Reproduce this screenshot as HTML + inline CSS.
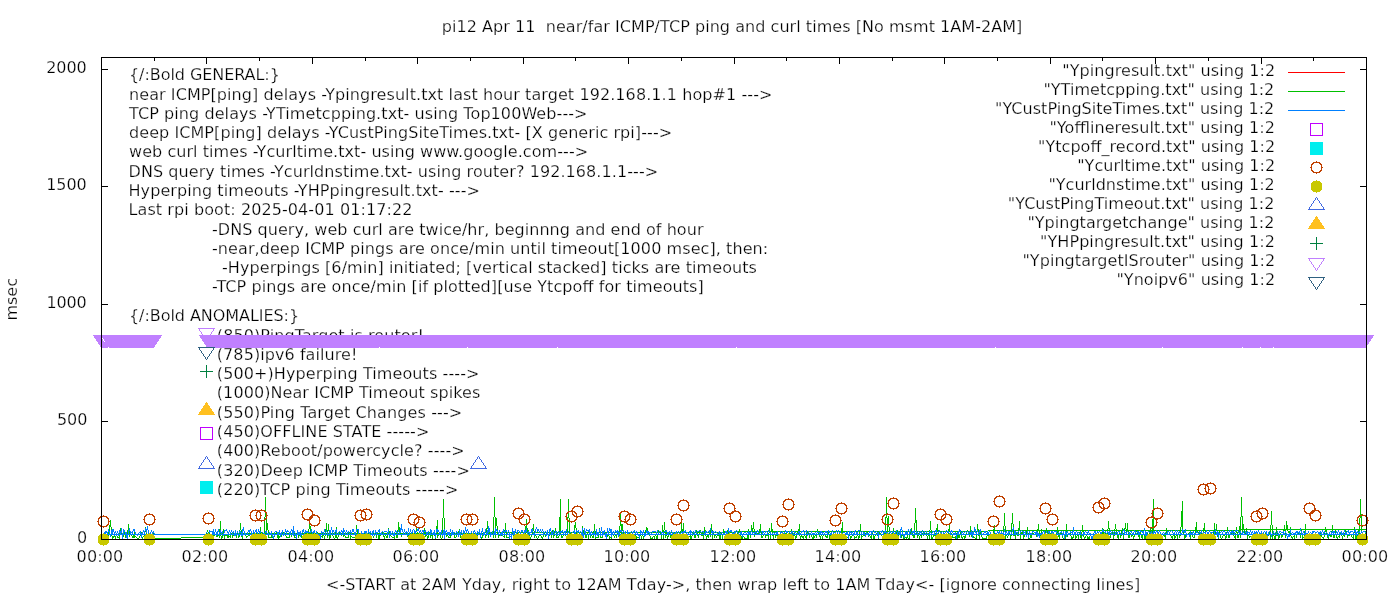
<!DOCTYPE html>
<html><head><meta charset="utf-8"><title>pi12 Apr 11 near/far ICMP/TCP ping and curl times</title>
<style>html,body{margin:0;padding:0;background:#fff;overflow:hidden}svg{display:block}
svg text{font-family:"DejaVu Sans","Liberation Sans",sans-serif;font-size:16px;white-space:pre;stroke:#fff;stroke-width:0.25px;paint-order:fill stroke}</style></head>
<body><svg width="1400" height="600" viewBox="0 0 1400 600">
<rect x="0" y="0" width="1400" height="600" fill="#fff"/>
<g fill="#000">
<text x="129.0" y="80" textLength="150.84">{/:Bold GENERAL:}</text>
<text x="129.0" y="100" textLength="643.39">near ICMP[ping] delays -Ypingresult.txt last hour target 192.168.1.1 hop#1 ---&gt;</text>
<text x="129.0" y="119" textLength="458.5">TCP ping delays -YTimetcpping.txt- using Top100Web---&gt;</text>
<text x="129.0" y="138" textLength="543.15">deep ICMP[ping] delays -YCustPingSiteTimes.txt- [X generic rpi]---&gt;</text>
<text x="129.0" y="157" textLength="459.12">web curl times -Ycurltime.txt- using www.google.com---&gt;</text>
<text x="128.5" y="176.7" textLength="529.67">DNS query times -Ycurldnstime.txt- using router? 192.168.1.1---&gt;</text>
<text x="128.5" y="196.4" textLength="351.41">Hyperping timeouts -YHPpingresult.txt- ---&gt;</text>
<text x="128.5" y="215" textLength="283.89">Last rpi boot: 2025-04-01 01:17:22</text>
<text x="212.0" y="235" textLength="491.46">-DNS query, web curl are twice/hr, beginnng and end of hour</text>
<text x="212.0" y="254" textLength="556.22">-near,deep ICMP pings are once/min until timeout[1000 msec], then:</text>
<text x="222.0" y="273" textLength="534.93">-Hyperpings [6/min] initiated; [vertical stacked] ticks are timeouts</text>
<text x="212.0" y="292" textLength="491.79">-TCP pings are once/min [if plotted][use Ytcpoff for timeouts]</text>
<text x="129.0" y="321" textLength="170.09">{/:Bold ANOMALIES:}</text>
<text x="216.8" y="340.6" textLength="207.07">(850)PingTarget is router!</text>
<text x="216.8" y="360" textLength="140.58">(785)ipv6 failure!</text>
<text x="216.8" y="379" textLength="262.68">(500+)Hyperping Timeouts ----&gt;</text>
<text x="216.8" y="398" textLength="263.45">(1000)Near ICMP Timeout spikes</text>
<text x="216.8" y="418" textLength="245.45">(550)Ping Target Changes ---&gt;</text>
<text x="216.8" y="437" textLength="212.54">(450)OFFLINE STATE -----&gt;</text>
<text x="216.8" y="456" textLength="247.9">(400)Reboot/powercycle? ----&gt;</text>
<text x="216.8" y="476" textLength="253.09">(320)Deep ICMP Timeouts ----&gt;</text>
<text x="216.8" y="495" textLength="241.51">(220)TCP ping Timeouts -----&gt;</text>
</g>
<g shape-rendering="crispEdges">
<path fill="#000000" d="M101 58h1v11h-1zM101 70h1v116h-1zM101 187h1v117h-1zM101 305h1v116h-1zM101 422h1v117h-1zM101 69h7v1h-7zM101 186h7v1h-7zM101 304h7v1h-7zM101 421h7v1h-7zM101 57h1266v1h-1266zM101 539h1266v1h-1266zM154 58h1v3h-1zM206 58h1v6h-1zM259 58h1v3h-1zM312 58h1v6h-1zM365 58h1v3h-1zM417 58h1v6h-1zM470 58h1v3h-1zM523 58h1v6h-1zM575 58h1v3h-1zM628 58h1v6h-1zM681 58h1v3h-1zM734 58h1v6h-1zM786 58h1v3h-1zM839 58h1v6h-1zM892 58h1v3h-1zM944 58h1v6h-1zM997 58h1v3h-1zM1050 58h1v6h-1zM1102 58h1v3h-1zM1155 58h1v6h-1zM1208 58h1v3h-1zM1261 58h1v6h-1zM1313 58h1v3h-1zM1360 69h7v1h-7zM1360 186h7v1h-7zM1360 304h7v1h-7zM1360 421h7v1h-7zM1366 58h1v11h-1zM1366 70h1v116h-1zM1366 187h1v117h-1zM1366 305h1v116h-1zM1366 422h1v117h-1z"/>
<path fill="#ff0000" d="M1288 72h57v1h-57z"/>
<path fill="#00c000" d="M108 532h1v2h-1zM108 535h1v1h-1zM109 527h1v4h-1zM109 525h2v2h-2zM110 520h1v5h-1zM111 527h1v3h-1zM111 535h1v1h-1zM112 538h1v1h-1zM112 537h2v1h-2zM112 536h4v1h-4zM115 537h1v2h-1zM117 536h1v1h-1zM117 537h3v1h-3zM119 533h1v1h-1zM119 535h1v2h-1zM119 538h1v1h-1zM120 528h1v3h-1zM121 533h1v1h-1zM123 535h1v2h-1zM124 532h1v2h-1zM125 535h1v3h-1zM127 530h1v4h-1zM128 524h1v6h-1zM129 531h1v3h-1zM129 535h1v2h-1zM131 535h1v1h-1zM132 537h3v1h-3zM132 536h4v1h-4zM133 535h2v1h-2zM134 532h1v2h-1zM136 537h1v1h-1zM137 538h2v1h-2zM139 536h1v2h-1zM140 535h1v1h-1zM141 532h1v1h-1zM142 537h1v2h-1zM143 536h1v1h-1zM144 535h1v1h-1zM145 527h1v1h-1zM145 531h1v1h-1zM146 533h1v1h-1zM153 533h1v1h-1zM155 538h26v1h-26zM181 537h22v1h-22zM206 533h1v1h-1zM207 530h1v2h-1zM208 532h1v1h-1zM209 533h1v1h-1zM213 535h2v1h-2zM216 536h2v1h-2zM217 535h2v1h-2zM219 530h1v2h-1zM219 536h1v2h-1zM219 529h2v1h-2zM220 521h1v8h-1zM220 533h1v1h-1zM220 535h1v1h-1zM221 538h1v1h-1zM221 536h2v2h-2zM222 533h1v1h-1zM222 535h1v1h-1zM223 529h1v4h-1zM224 536h1v3h-1zM224 535h5v1h-5zM227 537h2v1h-2zM227 536h4v1h-4zM230 535h1v1h-1zM230 537h1v1h-1zM231 533h1v1h-1zM232 536h1v2h-1zM232 535h2v1h-2zM233 533h1v1h-1zM236 535h1v3h-1zM237 533h1v1h-1zM238 537h1v1h-1zM238 536h2v1h-2zM239 530h1v1h-1zM239 535h1v1h-1zM239 533h2v1h-2zM240 523h1v7h-1zM241 530h1v2h-1zM241 536h2v1h-2zM242 537h1v2h-1zM243 533h1v1h-1zM245 535h1v1h-1zM246 533h1v1h-1zM246 537h1v1h-1zM246 536h2v1h-2zM248 535h2v1h-2zM248 533h3v1h-3zM253 533h1v1h-1zM256 533h1v1h-1zM258 533h1v1h-1zM260 527h1v4h-1zM260 533h1v1h-1zM261 532h1v1h-1zM262 533h1v1h-1zM264 517h1v2h-1zM264 521h1v12h-1zM265 497h1v14h-1zM265 513h1v4h-1zM265 533h2v1h-2zM266 519h1v4h-1zM266 530h1v1h-1zM266 523h2v7h-2zM268 530h1v3h-1zM268 535h1v2h-1zM268 537h5v1h-5zM269 533h1v1h-1zM271 535h1v2h-1zM272 533h2v1h-2zM274 536h1v1h-1zM275 533h2v1h-2zM276 532h1v1h-1zM277 535h2v1h-2zM277 536h3v2h-3zM278 538h1v1h-1zM279 533h1v1h-1zM281 535h1v2h-1zM282 533h1v1h-1zM283 532h1v1h-1zM285 533h1v1h-1zM285 535h1v1h-1zM286 536h1v1h-1zM286 537h4v1h-4zM287 533h2v1h-2zM289 535h1v2h-1zM291 533h1v1h-1zM291 535h1v2h-1zM294 533h1v1h-1zM294 535h1v2h-1zM294 537h2v1h-2zM296 533h1v1h-1zM298 536h1v2h-1zM298 535h2v1h-2zM301 535h1v3h-1zM302 533h2v1h-2zM305 533h2v1h-2zM308 529h1v3h-1zM308 533h4v1h-4zM309 524h1v2h-1zM309 526h2v3h-2zM310 529h1v2h-1zM311 532h1v1h-1zM313 533h1v1h-1zM315 533h1v1h-1zM317 532h1v1h-1zM318 533h3v1h-3zM321 536h2v1h-2zM322 533h1v1h-1zM322 537h1v1h-1zM322 535h2v1h-2zM324 533h1v1h-1zM324 536h1v3h-1zM325 530h1v2h-1zM325 535h1v1h-1zM325 529h2v1h-2zM326 523h1v6h-1zM326 533h1v1h-1zM327 531h1v1h-1zM327 535h1v3h-1zM327 530h2v1h-2zM328 524h1v6h-1zM328 533h1v1h-1zM329 538h1v1h-1zM329 535h2v3h-2zM331 533h1v1h-1zM332 535h1v1h-1zM333 533h1v1h-1zM333 536h1v2h-1zM334 538h1v1h-1zM335 532h1v2h-1zM335 535h2v2h-2zM335 537h3v1h-3zM336 527h1v2h-1zM337 533h1v1h-1zM337 538h1v1h-1zM338 535h1v2h-1zM339 532h1v2h-1zM341 533h1v1h-1zM341 535h1v1h-1zM343 536h1v1h-1zM343 535h2v1h-2zM344 533h1v1h-1zM345 536h1v1h-1zM345 537h4v1h-4zM346 533h1v1h-1zM348 533h1v1h-1zM348 535h1v2h-1zM349 532h1v1h-1zM350 533h1v1h-1zM350 535h1v1h-1zM350 537h1v2h-1zM350 536h2v1h-2zM352 533h2v1h-2zM352 537h3v1h-3zM355 535h1v1h-1zM356 525h1v4h-1zM356 533h2v1h-2zM357 530h1v3h-1zM359 533h1v1h-1zM364 533h1v1h-1zM368 533h1v1h-1zM370 533h1v1h-1zM373 533h1v1h-1zM373 536h1v2h-1zM375 533h1v1h-1zM376 535h1v3h-1zM377 533h3v1h-3zM378 536h2v3h-2zM378 535h3v1h-3zM382 532h1v2h-1zM383 535h1v1h-1zM383 536h2v1h-2zM384 537h1v2h-1zM384 533h3v1h-3zM385 535h1v1h-1zM386 536h2v2h-2zM387 535h1v1h-1zM388 528h1v1h-1zM388 533h1v1h-1zM389 531h1v2h-1zM390 535h1v1h-1zM391 536h1v1h-1zM392 533h1v1h-1zM392 537h3v1h-3zM394 536h1v1h-1zM394 538h1v1h-1zM395 533h2v1h-2zM396 535h2v3h-2zM397 530h1v2h-1zM398 522h1v5h-1zM398 533h1v1h-1zM398 527h2v3h-2zM399 530h1v2h-1zM400 533h3v1h-3zM401 535h1v2h-1zM404 533h1v1h-1zM406 533h1v1h-1zM407 536h1v1h-1zM408 533h1v1h-1zM408 535h1v1h-1zM410 533h1v1h-1zM412 533h1v1h-1zM414 533h1v1h-1zM416 528h1v3h-1zM416 533h3v1h-3zM417 532h1v1h-1zM420 533h1v1h-1zM422 533h1v1h-1zM424 528h1v3h-1zM424 532h2v2h-2zM425 536h1v1h-1zM425 535h2v1h-2zM427 538h1v1h-1zM427 536h2v2h-2zM428 533h1v1h-1zM428 535h1v1h-1zM429 532h1v1h-1zM430 536h1v2h-1zM430 535h3v1h-3zM431 533h1v1h-1zM432 536h1v3h-1zM434 535h1v1h-1zM435 538h1v1h-1zM436 526h2v3h-2zM436 533h3v1h-3zM437 520h1v6h-1zM437 532h1v1h-1zM437 536h1v2h-1zM437 535h2v1h-2zM440 535h1v3h-1zM441 533h1v1h-1zM441 538h1v1h-1zM442 518h1v15h-1zM442 536h1v2h-1zM443 499h1v19h-1zM444 518h1v11h-1zM446 533h1v1h-1zM446 536h1v1h-1zM446 535h2v1h-2zM448 536h1v1h-1zM448 537h3v1h-3zM450 533h1v1h-1zM450 535h1v2h-1zM454 533h1v1h-1zM454 535h1v2h-1zM454 537h2v1h-2zM456 533h1v1h-1zM456 535h1v2h-1zM458 531h1v2h-1zM459 529h1v1h-1zM460 535h1v3h-1zM461 533h1v1h-1zM463 533h1v1h-1zM465 533h1v1h-1zM467 533h1v1h-1zM469 533h1v1h-1zM471 533h1v1h-1zM474 533h1v1h-1zM477 533h1v1h-1zM477 535h1v1h-1zM479 533h1v1h-1zM481 538h1v1h-1zM481 537h2v1h-2zM482 533h1v1h-1zM482 535h1v2h-1zM485 532h1v1h-1zM485 536h1v2h-1zM485 535h2v1h-2zM486 529h1v3h-1zM486 528h2v1h-2zM487 521h1v7h-1zM488 535h1v3h-1zM488 533h2v1h-2zM489 532h1v1h-1zM491 532h1v1h-1zM492 533h1v1h-1zM493 517h1v16h-1zM493 535h1v3h-1zM494 497h1v20h-1zM495 517h1v1h-1zM495 526h1v2h-1zM495 535h1v3h-1zM495 518h2v8h-2zM496 532h2v1h-2zM497 526h1v4h-1zM497 533h1v1h-1zM498 536h1v2h-1zM498 535h2v1h-2zM500 532h1v1h-1zM501 535h1v1h-1zM503 532h1v1h-1zM503 536h2v1h-2zM504 530h1v1h-1zM504 535h1v1h-1zM504 537h1v1h-1zM505 523h1v7h-1zM505 532h2v1h-2zM506 533h1v1h-1zM506 535h1v2h-1zM506 537h3v1h-3zM508 532h1v1h-1zM510 532h2v1h-2zM512 533h1v1h-1zM513 535h1v1h-1zM515 532h1v1h-1zM517 533h1v1h-1zM518 532h1v1h-1zM521 532h2v1h-2zM525 528h1v2h-1zM525 533h1v1h-1zM525 526h2v2h-2zM526 519h1v5h-1zM526 525h1v1h-1zM526 532h1v1h-1zM527 528h1v2h-1zM527 531h1v1h-1zM527 530h2v1h-2zM528 533h1v1h-1zM529 535h1v1h-1zM530 537h1v2h-1zM531 535h1v2h-1zM532 532h1v2h-1zM532 528h2v1h-2zM533 524h1v4h-1zM533 529h1v2h-1zM534 531h1v2h-1zM534 536h1v2h-1zM535 535h1v1h-1zM536 536h1v2h-1zM536 532h3v1h-3zM537 538h1v1h-1zM538 536h1v2h-1zM539 535h2v1h-2zM540 532h1v1h-1zM541 536h1v1h-1zM541 537h2v1h-2zM542 532h1v1h-1zM542 538h1v1h-1zM543 535h1v2h-1zM544 533h1v1h-1zM545 532h1v1h-1zM545 535h1v2h-1zM548 532h1v1h-1zM549 535h1v1h-1zM550 532h1v2h-1zM551 535h1v3h-1zM552 530h1v2h-1zM553 533h1v1h-1zM553 536h1v2h-1zM553 535h2v1h-2zM554 531h1v2h-1zM555 528h1v3h-1zM556 533h1v1h-1zM556 535h1v2h-1zM556 537h3v1h-3zM557 532h1v1h-1zM558 536h1v1h-1zM559 531h1v1h-1zM559 535h1v1h-1zM559 517h2v14h-2zM560 499h1v18h-1zM560 533h1v1h-1zM561 535h1v1h-1zM561 536h2v2h-2zM562 532h1v1h-1zM563 535h1v1h-1zM565 535h1v1h-1zM566 532h1v1h-1zM567 518h1v1h-1zM567 521h1v11h-1zM567 517h2v1h-2zM568 499h1v12h-1zM568 513h1v4h-1zM569 518h1v3h-1zM569 522h1v11h-1zM570 533h1v1h-1zM571 532h1v1h-1zM573 532h1v1h-1zM574 528h1v2h-1zM574 525h2v3h-2zM575 522h1v3h-1zM576 528h1v2h-1zM576 532h1v2h-1zM578 532h1v1h-1zM580 532h1v1h-1zM582 526h1v2h-1zM583 530h1v3h-1zM584 533h1v1h-1zM585 535h2v3h-2zM586 532h3v1h-3zM587 533h1v1h-1zM588 535h1v4h-1zM590 536h1v2h-1zM591 535h1v1h-1zM592 532h2v1h-2zM592 536h2v2h-2zM593 531h1v1h-1zM593 535h1v1h-1zM594 524h1v7h-1zM595 531h1v3h-1zM595 538h1v1h-1zM595 537h4v1h-4zM598 535h1v2h-1zM599 528h1v1h-1zM599 532h1v1h-1zM600 536h1v1h-1zM600 537h3v1h-3zM601 532h1v1h-1zM602 536h1v1h-1zM604 533h1v1h-1zM605 532h2v1h-2zM607 536h1v1h-1zM607 535h2v1h-2zM609 532h1v1h-1zM609 536h1v1h-1zM609 538h1v1h-1zM609 537h3v1h-3zM611 538h1v1h-1zM613 535h1v1h-1zM614 536h1v2h-1zM615 532h1v1h-1zM615 535h2v1h-2zM616 536h1v2h-1zM617 533h1v1h-1zM619 526h1v6h-1zM619 535h1v1h-1zM620 514h1v5h-1zM620 521h1v3h-1zM620 532h2v1h-2zM620 524h3v2h-3zM621 533h1v1h-1zM621 526h2v4h-2zM622 530h1v1h-1zM623 532h1v2h-1zM626 532h1v1h-1zM629 533h1v1h-1zM631 532h1v1h-1zM634 532h1v1h-1zM635 535h1v1h-1zM636 536h1v1h-1zM636 538h1v1h-1zM636 537h3v1h-3zM638 532h2v1h-2zM640 535h1v1h-1zM641 536h1v3h-1zM642 535h1v1h-1zM643 536h1v3h-1zM644 532h2v1h-2zM645 530h1v2h-1zM646 527h1v1h-1zM646 528h2v2h-2zM647 530h1v1h-1zM648 533h1v1h-1zM649 535h1v1h-1zM650 536h1v2h-1zM650 538h3v1h-3zM651 532h1v1h-1zM652 537h1v1h-1zM653 536h2v1h-2zM653 532h3v1h-3zM654 537h1v2h-1zM655 535h1v1h-1zM656 536h2v3h-2zM657 532h1v1h-1zM657 535h1v1h-1zM658 530h1v2h-1zM659 532h2v1h-2zM660 533h1v1h-1zM661 535h1v4h-1zM662 525h1v5h-1zM662 530h2v2h-2zM663 535h1v4h-1zM664 522h1v8h-1zM664 532h3v1h-3zM665 530h1v1h-1zM665 536h1v2h-1zM665 533h2v1h-2zM665 535h2v1h-2zM667 537h1v2h-1zM667 536h2v1h-2zM668 535h1v1h-1zM669 533h1v1h-1zM670 536h1v2h-1zM670 535h2v1h-2zM671 532h1v1h-1zM673 533h1v1h-1zM674 532h1v1h-1zM677 532h1v1h-1zM679 532h2v1h-2zM680 531h1v1h-1zM681 523h1v6h-1zM681 529h3v2h-3zM682 531h1v1h-1zM683 523h1v6h-1zM685 532h1v1h-1zM688 532h1v1h-1zM689 536h3v1h-3zM690 535h1v1h-1zM690 537h2v2h-2zM692 532h1v1h-1zM692 535h1v1h-1zM693 533h1v1h-1zM694 535h2v3h-2zM695 532h1v1h-1zM696 530h1v2h-1zM697 533h1v1h-1zM697 535h2v1h-2zM697 532h4v1h-4zM698 536h1v2h-1zM699 531h1v1h-1zM699 533h1v1h-1zM700 530h1v1h-1zM701 533h3v1h-3zM701 535h3v1h-3zM702 532h1v1h-1zM703 536h1v3h-1zM704 527h1v3h-1zM704 531h1v2h-1zM704 530h2v1h-2zM705 535h1v1h-1zM706 537h1v2h-1zM706 536h3v1h-3zM707 535h2v1h-2zM708 532h1v1h-1zM708 537h1v1h-1zM709 533h2v1h-2zM710 530h1v3h-1zM710 535h1v2h-1zM711 524h1v6h-1zM712 530h1v1h-1zM712 535h1v4h-1zM713 533h1v1h-1zM714 536h1v2h-1zM714 535h2v1h-2zM715 532h1v1h-1zM716 536h1v2h-1zM717 532h1v1h-1zM717 535h4v1h-4zM718 533h1v1h-1zM719 536h2v3h-2zM720 532h1v1h-1zM721 533h1v1h-1zM722 535h1v4h-1zM723 529h1v2h-1zM723 531h2v2h-2zM727 530h1v2h-1zM728 532h1v2h-1zM730 532h2v1h-2zM733 532h1v1h-1zM736 531h1v1h-1zM737 533h1v1h-1zM738 532h1v1h-1zM738 531h3v1h-3zM739 529h1v2h-1zM740 535h1v1h-1zM741 536h1v1h-1zM741 537h2v2h-2zM742 531h6v1h-6zM743 536h1v1h-1zM744 537h1v1h-1zM744 538h5v1h-5zM747 535h2v3h-2zM748 529h1v2h-1zM749 531h2v1h-2zM750 535h1v3h-1zM751 525h1v3h-1zM751 529h2v1h-2zM751 528h3v1h-3zM752 530h1v1h-1zM752 531h3v1h-3zM753 522h1v6h-1zM754 529h1v2h-1zM754 535h1v2h-1zM755 533h1v1h-1zM756 531h1v1h-1zM757 533h2v1h-2zM759 532h1v1h-1zM759 529h2v3h-2zM760 524h1v5h-1zM761 532h1v2h-1zM761 535h1v1h-1zM761 536h2v2h-2zM763 535h1v1h-1zM764 531h1v1h-1zM765 536h1v2h-1zM765 535h4v1h-4zM767 531h1v1h-1zM768 533h1v1h-1zM768 536h1v3h-1zM769 528h1v3h-1zM769 532h1v1h-1zM770 535h1v4h-1zM770 531h7v1h-7zM771 523h1v6h-1zM771 529h2v2h-2zM772 532h1v1h-1zM772 535h2v1h-2zM773 536h1v3h-1zM774 532h1v1h-1zM775 536h1v2h-1zM775 535h3v1h-3zM778 531h2v1h-2zM781 531h1v1h-1zM783 531h2v1h-2zM785 533h2v1h-2zM788 531h1v1h-1zM789 533h1v1h-1zM790 531h1v1h-1zM791 529h1v2h-1zM792 533h1v1h-1zM793 531h1v1h-1zM793 535h2v1h-2zM794 533h1v1h-1zM795 538h1v1h-1zM795 536h2v2h-2zM795 531h3v1h-3zM796 535h1v1h-1zM797 532h1v1h-1zM798 533h1v1h-1zM798 529h2v2h-2zM799 524h1v5h-1zM799 535h1v1h-1zM800 531h1v1h-1zM800 537h1v2h-1zM800 536h4v1h-4zM801 535h1v1h-1zM802 537h2v1h-2zM803 538h1v1h-1zM804 531h1v1h-1zM804 535h1v1h-1zM805 536h2v2h-2zM806 533h1v1h-1zM806 535h1v1h-1zM806 538h1v1h-1zM807 531h1v2h-1zM808 533h1v1h-1zM809 535h1v3h-1zM809 531h2v1h-2zM811 535h1v2h-1zM812 538h2v1h-2zM812 537h3v1h-3zM812 531h5v1h-5zM813 535h1v1h-1zM813 536h2v1h-2zM815 535h2v1h-2zM816 536h1v2h-1zM817 529h1v2h-1zM818 533h1v1h-1zM818 531h2v1h-2zM819 535h1v1h-1zM819 536h2v1h-2zM820 537h1v2h-1zM821 535h1v1h-1zM822 536h1v3h-1zM822 531h3v1h-3zM823 535h1v1h-1zM825 535h1v1h-1zM825 536h3v1h-3zM826 537h2v1h-2zM827 531h1v1h-1zM827 535h1v1h-1zM828 532h1v2h-1zM829 536h1v3h-1zM829 535h2v1h-2zM830 531h2v1h-2zM833 531h3v1h-3zM837 531h1v1h-1zM839 531h1v1h-1zM841 528h2v3h-2zM841 532h2v1h-2zM841 531h6v1h-6zM842 522h1v6h-1zM847 537h1v1h-1zM848 531h1v1h-1zM849 535h1v1h-1zM850 538h1v1h-1zM850 536h2v2h-2zM851 531h1v1h-1zM852 535h1v1h-1zM853 531h1v1h-1zM854 536h1v1h-1zM854 538h1v1h-1zM854 537h3v1h-3zM856 536h1v1h-1zM856 531h2v1h-2zM857 535h1v1h-1zM858 538h1v1h-1zM858 536h2v2h-2zM859 531h1v3h-1zM859 535h1v1h-1zM860 524h1v7h-1zM861 531h1v1h-1zM861 535h1v1h-1zM861 537h1v2h-1zM861 536h2v1h-2zM863 535h2v1h-2zM863 531h6v1h-6zM865 533h1v1h-1zM867 532h1v1h-1zM868 536h1v1h-1zM869 535h1v1h-1zM870 536h2v2h-2zM871 535h1v1h-1zM871 538h1v1h-1zM872 533h1v1h-1zM873 531h1v1h-1zM873 535h1v1h-1zM873 536h2v3h-2zM875 531h1v1h-1zM875 535h1v1h-1zM876 533h1v1h-1zM877 535h1v1h-1zM877 531h2v1h-2zM878 538h1v1h-1zM879 532h1v1h-1zM879 533h2v1h-2zM881 535h1v1h-1zM883 531h1v1h-1zM884 533h2v1h-2zM885 518h1v6h-1zM885 525h1v5h-1zM885 517h2v1h-2zM886 497h1v17h-1zM886 515h1v2h-1zM886 531h3v1h-3zM887 527h1v4h-1zM887 518h2v6h-2zM887 526h2v1h-2zM888 516h1v2h-1zM888 525h1v1h-1zM889 527h1v4h-1zM889 533h1v1h-1zM891 531h1v1h-1zM892 533h1v1h-1zM893 528h1v3h-1zM894 531h2v1h-2zM896 532h1v2h-1zM897 530h1v2h-1zM898 533h1v1h-1zM898 535h1v1h-1zM899 531h1v1h-1zM901 531h1v1h-1zM901 536h1v2h-1zM901 535h2v1h-2zM903 536h1v2h-1zM903 531h2v1h-2zM903 538h2v1h-2zM905 537h3v1h-3zM906 531h1v1h-1zM906 538h1v1h-1zM907 535h1v2h-1zM908 531h1v1h-1zM908 538h2v1h-2zM909 535h1v3h-1zM910 532h1v2h-1zM911 528h1v4h-1zM912 533h1v1h-1zM912 535h3v1h-3zM913 536h2v2h-2zM914 523h1v7h-1zM915 508h1v12h-1zM915 531h1v1h-1zM915 520h2v3h-2zM916 523h1v8h-1zM916 533h1v1h-1zM917 531h1v1h-1zM917 536h1v2h-1zM917 535h2v1h-2zM918 533h1v1h-1zM919 531h1v1h-1zM919 536h1v3h-1zM920 535h2v1h-2zM921 531h1v1h-1zM921 536h1v2h-1zM922 533h1v1h-1zM923 531h1v1h-1zM923 535h1v1h-1zM924 533h1v1h-1zM925 531h1v1h-1zM926 533h1v1h-1zM926 535h1v1h-1zM927 536h1v3h-1zM927 531h2v1h-2zM928 533h1v1h-1zM928 535h2v1h-2zM929 530h1v1h-1zM929 536h1v3h-1zM930 521h1v9h-1zM930 531h2v1h-2zM931 530h1v1h-1zM931 532h1v1h-1zM931 535h1v2h-1zM931 537h2v2h-2zM933 536h1v1h-1zM933 535h3v1h-3zM934 531h1v1h-1zM935 533h1v1h-1zM936 528h2v2h-2zM937 524h1v4h-1zM937 531h1v1h-1zM937 530h2v1h-2zM938 533h1v1h-1zM940 531h2v1h-2zM943 531h2v1h-2zM946 531h1v1h-1zM948 533h1v1h-1zM948 529h2v2h-2zM949 525h1v4h-1zM949 531h1v1h-1zM951 533h1v1h-1zM952 535h1v2h-1zM952 537h4v1h-4zM953 531h5v1h-5zM955 536h1v1h-1zM955 538h1v1h-1zM956 533h1v1h-1zM957 538h1v1h-1zM957 535h3v3h-3zM960 532h1v2h-1zM961 531h1v1h-1zM961 535h1v2h-1zM961 537h2v1h-2zM962 538h1v1h-1zM963 531h2v1h-2zM963 536h3v1h-3zM964 538h1v1h-1zM964 537h2v1h-2zM965 535h1v1h-1zM966 531h1v1h-1zM966 533h1v1h-1zM967 530h1v1h-1zM968 531h1v1h-1zM969 533h1v1h-1zM969 535h1v2h-1zM970 526h1v6h-1zM971 535h1v2h-1zM972 531h1v1h-1zM973 536h1v1h-1zM973 537h2v1h-2zM974 531h1v1h-1zM975 538h2v1h-2zM976 531h1v1h-1zM976 535h1v3h-1zM977 524h1v5h-1zM977 529h2v1h-2zM978 530h1v2h-1zM978 535h2v1h-2zM979 536h1v3h-1zM979 533h2v1h-2zM980 532h1v1h-1zM981 535h1v2h-1zM981 531h3v1h-3zM982 537h1v1h-1zM982 538h5v1h-5zM986 531h1v1h-1zM986 536h1v2h-1zM987 535h2v1h-2zM988 530h11v1h-11zM993 531h1v2h-1zM993 529h2v1h-2zM994 525h1v1h-1zM994 527h1v2h-1zM994 533h1v1h-1zM1000 530h4v1h-4zM1003 526h1v4h-1zM1003 531h1v1h-1zM1004 513h1v13h-1zM1005 526h1v4h-1zM1005 531h1v1h-1zM1005 536h1v3h-1zM1005 535h2v1h-2zM1005 530h7v1h-7zM1007 536h1v2h-1zM1008 535h1v1h-1zM1009 533h1v1h-1zM1010 536h1v3h-1zM1010 535h2v1h-2zM1011 524h1v6h-1zM1011 531h1v1h-1zM1011 523h2v1h-2zM1012 513h1v10h-1zM1013 524h1v3h-1zM1013 530h1v4h-1zM1013 535h3v1h-3zM1015 536h1v3h-1zM1015 530h4v1h-4zM1016 533h1v1h-1zM1017 535h2v1h-2zM1018 532h1v2h-1zM1018 528h2v2h-2zM1019 521h1v7h-1zM1020 530h1v1h-1zM1020 535h1v4h-1zM1020 533h3v1h-3zM1021 532h2v1h-2zM1022 530h51v1h-51zM1023 537h1v2h-1zM1023 535h2v2h-2zM1026 531h1v3h-1zM1027 527h1v3h-1zM1028 533h1v1h-1zM1028 538h2v1h-2zM1030 535h2v3h-2zM1032 533h2v1h-2zM1036 535h1v2h-1zM1037 531h1v1h-1zM1037 529h2v1h-2zM1038 524h1v5h-1zM1039 531h1v3h-1zM1040 535h1v1h-1zM1041 529h1v1h-1zM1041 531h1v2h-1zM1045 531h1v2h-1zM1046 528h1v2h-1zM1047 531h1v2h-1zM1048 533h1v1h-1zM1050 533h1v1h-1zM1056 533h1v1h-1zM1057 527h1v3h-1zM1057 532h1v1h-1zM1057 531h2v1h-2zM1058 533h1v1h-1zM1058 535h2v2h-2zM1059 537h1v2h-1zM1060 533h2v1h-2zM1062 536h1v2h-1zM1063 538h1v1h-1zM1065 535h1v4h-1zM1066 524h1v6h-1zM1066 531h1v1h-1zM1067 535h1v2h-1zM1070 533h1v1h-1zM1070 535h1v1h-1zM1071 536h1v1h-1zM1071 538h2v1h-2zM1071 537h3v1h-3zM1073 535h1v2h-1zM1074 530h14v1h-14zM1075 535h1v1h-1zM1075 538h1v1h-1zM1075 536h2v2h-2zM1077 535h2v1h-2zM1078 536h1v3h-1zM1079 532h1v1h-1zM1080 535h2v3h-2zM1081 532h1v2h-1zM1081 538h1v1h-1zM1082 525h1v5h-1zM1082 531h2v1h-2zM1083 535h1v2h-1zM1084 538h1v1h-1zM1084 537h2v1h-2zM1085 536h1v1h-1zM1086 535h1v1h-1zM1087 536h1v1h-1zM1087 537h3v2h-3zM1089 536h1v1h-1zM1089 530h13v1h-13zM1102 528h1v1h-1zM1102 532h2v2h-2zM1103 529h1v1h-1zM1104 530h6v1h-6zM1105 533h1v1h-1zM1107 529h1v1h-1zM1107 533h1v1h-1zM1108 521h1v7h-1zM1108 528h2v1h-2zM1109 529h1v1h-1zM1110 533h1v1h-1zM1110 535h1v3h-1zM1111 530h12v1h-12zM1112 532h1v2h-1zM1113 536h1v3h-1zM1113 535h2v1h-2zM1114 529h1v1h-1zM1114 532h1v2h-1zM1115 524h1v5h-1zM1116 529h1v1h-1zM1116 531h1v1h-1zM1116 533h1v1h-1zM1117 535h2v3h-2zM1118 538h1v1h-1zM1119 533h1v1h-1zM1120 536h1v2h-1zM1120 535h2v1h-2zM1121 531h1v3h-1zM1122 528h1v2h-1zM1123 533h1v1h-1zM1123 535h1v4h-1zM1124 529h1v1h-1zM1124 528h2v1h-2zM1125 523h1v5h-1zM1125 530h9v1h-9zM1126 531h1v1h-1zM1126 529h2v1h-2zM1127 523h1v6h-1zM1128 531h1v1h-1zM1128 533h1v1h-1zM1128 535h2v3h-2zM1130 533h1v1h-1zM1131 536h1v1h-1zM1131 535h2v1h-2zM1133 537h1v2h-1zM1133 536h2v1h-2zM1134 535h1v1h-1zM1135 533h1v1h-1zM1135 530h5v1h-5zM1136 531h1v1h-1zM1137 533h1v1h-1zM1138 535h2v2h-2zM1139 537h1v2h-1zM1140 532h1v2h-1zM1141 535h2v3h-2zM1141 530h3v1h-3zM1142 538h1v1h-1zM1144 535h1v1h-1zM1144 536h2v3h-2zM1145 530h11v1h-11zM1147 533h1v1h-1zM1149 533h1v1h-1zM1149 531h2v1h-2zM1150 528h1v2h-1zM1152 531h1v2h-1zM1152 519h2v8h-2zM1152 528h2v2h-2zM1153 499h1v10h-1zM1153 511h1v5h-1zM1153 518h1v1h-1zM1157 530h2v1h-2zM1160 530h11v1h-11zM1163 535h3v1h-3zM1164 536h2v1h-2zM1165 533h1v1h-1zM1165 537h1v2h-1zM1166 528h1v2h-1zM1166 531h1v2h-1zM1170 535h1v1h-1zM1171 536h2v2h-2zM1172 538h1v1h-1zM1172 530h3v1h-3zM1173 535h2v1h-2zM1174 538h1v1h-1zM1174 536h2v2h-2zM1176 530h1v1h-1zM1176 535h2v1h-2zM1177 536h1v3h-1zM1178 530h4v1h-4zM1179 536h1v2h-1zM1179 535h2v1h-2zM1180 527h1v3h-1zM1180 531h1v2h-1zM1181 511h2v16h-2zM1182 501h1v10h-1zM1182 527h1v2h-1zM1183 532h1v2h-1zM1184 530h1v1h-1zM1184 538h1v1h-1zM1184 535h2v3h-2zM1186 530h15v1h-15zM1188 533h1v1h-1zM1189 532h1v1h-1zM1190 535h1v4h-1zM1191 532h1v1h-1zM1192 535h1v2h-1zM1193 537h2v1h-2zM1194 535h1v2h-1zM1195 531h1v2h-1zM1195 527h2v3h-2zM1196 522h1v5h-1zM1197 531h1v1h-1zM1198 532h1v1h-1zM1199 533h1v1h-1zM1201 533h1v1h-1zM1202 530h4v1h-4zM1203 531h1v1h-1zM1203 528h2v2h-2zM1204 523h1v5h-1zM1205 531h1v1h-1zM1207 530h2v1h-2zM1210 530h5v1h-5zM1213 532h1v2h-1zM1214 523h1v7h-1zM1215 532h1v2h-1zM1216 524h1v6h-1zM1216 530h7v1h-7zM1217 535h1v2h-1zM1218 538h1v1h-1zM1219 531h1v2h-1zM1220 535h1v3h-1zM1221 538h1v1h-1zM1222 536h1v2h-1zM1223 535h2v1h-2zM1224 530h5v1h-5zM1225 538h1v1h-1zM1225 536h2v2h-2zM1226 532h1v1h-1zM1226 535h1v1h-1zM1227 527h1v3h-1zM1228 535h2v3h-2zM1230 530h2v1h-2zM1231 533h1v1h-1zM1233 533h1v1h-1zM1233 535h1v1h-1zM1233 530h2v1h-2zM1234 536h2v2h-2zM1235 533h1v1h-1zM1235 535h1v1h-1zM1235 538h1v1h-1zM1236 527h1v3h-1zM1236 531h1v1h-1zM1236 532h2v1h-2zM1237 533h1v1h-1zM1237 535h2v3h-2zM1238 530h3v1h-3zM1239 531h1v1h-1zM1239 526h2v3h-2zM1239 529h51v1h-51zM1240 517h1v9h-1zM1240 533h1v1h-1zM1240 535h1v3h-1zM1241 497h1v19h-1zM1241 516h2v1h-2zM1242 517h1v7h-1zM1242 530h1v2h-1zM1242 524h2v5h-2zM1244 530h1v3h-1zM1245 533h1v1h-1zM1246 528h1v1h-1zM1246 530h1v2h-1zM1247 536h1v3h-1zM1247 535h2v1h-2zM1249 537h1v1h-1zM1249 536h2v1h-2zM1265 533h1v1h-1zM1268 535h1v1h-1zM1269 532h1v2h-1zM1270 525h1v4h-1zM1270 530h1v2h-1zM1270 535h1v4h-1zM1271 511h1v14h-1zM1272 525h1v4h-1zM1272 530h1v3h-1zM1272 536h1v3h-1zM1272 535h2v1h-2zM1273 533h1v1h-1zM1274 536h2v3h-2zM1275 533h1v1h-1zM1275 535h3v1h-3zM1276 527h1v2h-1zM1276 530h1v3h-1zM1277 533h1v1h-1zM1278 538h1v1h-1zM1278 536h2v2h-2zM1279 535h1v1h-1zM1280 533h1v1h-1zM1281 537h1v1h-1zM1281 535h2v2h-2zM1283 530h3v1h-3zM1284 525h1v4h-1zM1285 533h1v1h-1zM1285 535h1v3h-1zM1286 521h1v4h-1zM1286 525h2v4h-2zM1287 530h1v1h-1zM1288 531h2v2h-2zM1288 91h57v1h-57zM1290 527h1v2h-1zM1290 533h1v1h-1zM1290 535h1v1h-1zM1291 536h1v1h-1zM1291 537h2v1h-2zM1291 529h9v1h-9zM1292 538h1v1h-1zM1293 536h2v1h-2zM1294 535h1v1h-1zM1294 537h1v2h-1zM1296 535h1v3h-1zM1298 533h1v1h-1zM1300 533h1v1h-1zM1300 535h1v3h-1zM1301 530h1v1h-1zM1301 529h54v1h-54zM1302 535h1v2h-1zM1302 538h1v1h-1zM1302 537h2v1h-2zM1304 531h1v2h-1zM1304 535h1v1h-1zM1305 524h1v5h-1zM1305 530h1v1h-1zM1320 533h1v1h-1zM1320 535h2v1h-2zM1321 536h1v1h-1zM1322 537h2v1h-2zM1323 538h1v1h-1zM1324 533h1v1h-1zM1324 535h1v2h-1zM1325 527h1v2h-1zM1325 530h2v2h-2zM1326 533h1v1h-1zM1327 535h1v2h-1zM1327 537h2v1h-2zM1328 538h1v1h-1zM1329 535h3v1h-3zM1330 536h2v1h-2zM1331 531h1v1h-1zM1332 525h1v4h-1zM1332 530h1v1h-1zM1333 535h2v3h-2zM1335 530h1v3h-1zM1336 535h1v2h-1zM1336 537h2v1h-2zM1337 538h1v1h-1zM1338 536h2v1h-2zM1339 535h1v1h-1zM1339 537h1v1h-1zM1340 533h1v1h-1zM1341 535h1v1h-1zM1342 536h1v3h-1zM1343 535h2v1h-2zM1344 533h1v1h-1zM1344 536h1v1h-1zM1345 530h1v1h-1zM1345 531h2v1h-2zM1347 536h1v2h-1zM1347 535h3v1h-3zM1351 535h1v2h-1zM1352 537h2v1h-2zM1353 535h1v2h-1zM1353 538h1v1h-1zM1354 527h1v2h-1zM1354 532h1v1h-1zM1355 535h1v1h-1zM1355 536h2v3h-2zM1356 529h10v1h-10zM1357 535h1v1h-1zM1358 531h1v1h-1zM1358 530h2v1h-2zM1358 533h2v1h-2zM1359 518h1v6h-1zM1359 526h1v3h-1zM1360 499h1v15h-1zM1360 514h2v1h-2zM1360 516h2v2h-2zM1361 518h1v7h-1zM1361 526h1v3h-1zM1361 530h1v1h-1zM1365 531h1v1h-1zM1365 533h1v1h-1z"/>
<path fill="#0080ff" d="M104 533h2v1h-2zM104 532h4v1h-4zM105 531h2v1h-2zM107 533h1v1h-1zM107 534h39v1h-39zM108 529h1v2h-1zM108 531h2v1h-2zM109 532h1v2h-1zM110 535h1v2h-1zM111 532h2v2h-2zM111 530h3v2h-3zM112 529h2v1h-2zM114 533h1v1h-1zM114 535h1v1h-1zM114 532h2v1h-2zM115 531h1v1h-1zM116 533h1v1h-1zM116 535h1v1h-1zM117 531h1v2h-1zM118 533h1v1h-1zM118 535h1v1h-1zM119 530h1v1h-1zM119 531h3v2h-3zM120 533h1v1h-1zM121 528h1v3h-1zM122 535h1v4h-1zM122 533h2v1h-2zM123 529h1v1h-1zM123 532h1v1h-1zM123 530h2v2h-2zM125 532h2v2h-2zM126 535h2v3h-2zM127 538h1v1h-1zM128 531h1v3h-1zM128 530h2v1h-2zM129 528h1v2h-1zM130 531h1v1h-1zM130 533h1v1h-1zM130 532h3v1h-3zM132 531h1v1h-1zM132 533h1v1h-1zM133 529h2v2h-2zM134 531h1v1h-1zM135 532h1v2h-1zM137 535h1v1h-1zM138 533h1v1h-1zM139 532h2v1h-2zM140 531h1v1h-1zM140 533h3v1h-3zM141 535h1v3h-1zM142 532h1v1h-1zM143 530h1v1h-1zM143 531h2v1h-2zM144 532h1v2h-1zM145 528h1v1h-1zM145 530h2v1h-2zM145 529h3v1h-3zM146 531h1v2h-1zM147 526h1v3h-1zM148 530h1v4h-1zM150 532h1v2h-1zM151 530h1v2h-1zM152 533h1v1h-1zM152 532h2v1h-2zM153 531h1v1h-1zM153 534h52v1h-52zM154 533h1v1h-1zM206 532h1v1h-1zM207 533h1v1h-1zM209 530h1v1h-1zM209 532h1v1h-1zM209 531h5v1h-5zM212 532h3v2h-3zM212 534h40v1h-40zM213 529h1v2h-1zM215 529h1v3h-1zM216 535h1v1h-1zM216 532h2v2h-2zM217 531h2v1h-2zM218 529h1v2h-1zM219 533h1v1h-1zM219 535h1v1h-1zM219 532h4v1h-4zM220 530h1v2h-1zM221 533h1v1h-1zM222 531h1v1h-1zM223 533h1v1h-1zM223 535h1v1h-1zM224 531h1v2h-1zM224 530h3v1h-3zM226 529h1v1h-1zM227 531h1v1h-1zM227 532h2v1h-2zM228 533h1v1h-1zM229 530h1v2h-1zM230 532h1v2h-1zM231 530h1v2h-1zM232 533h1v1h-1zM232 532h2v1h-2zM233 531h1v1h-1zM234 535h2v1h-2zM234 533h3v1h-3zM235 530h1v3h-1zM237 531h1v2h-1zM238 533h1v1h-1zM238 535h1v1h-1zM239 531h2v1h-2zM239 532h4v1h-4zM241 533h2v1h-2zM241 535h2v1h-2zM242 531h1v1h-1zM242 529h2v2h-2zM243 527h1v2h-1zM244 531h1v2h-1zM244 533h2v1h-2zM247 532h1v2h-1zM248 531h2v1h-2zM248 530h3v1h-3zM249 532h1v1h-1zM250 529h1v1h-1zM251 531h1v2h-1zM251 533h2v1h-2zM253 530h1v2h-1zM253 532h2v1h-2zM254 533h1v1h-1zM255 530h2v2h-2zM256 529h1v1h-1zM256 532h2v1h-2zM257 533h1v1h-1zM258 529h1v2h-1zM258 531h3v1h-3zM259 533h1v1h-1zM259 532h2v1h-2zM262 532h1v1h-1zM263 533h2v1h-2zM265 531h2v2h-2zM265 534h39v1h-39zM267 533h2v1h-2zM269 532h1v1h-1zM270 533h2v1h-2zM271 531h1v2h-1zM272 535h1v1h-1zM272 536h2v1h-2zM273 537h1v2h-1zM274 532h1v2h-1zM274 535h1v1h-1zM275 531h2v1h-2zM277 533h2v1h-2zM277 532h3v1h-3zM279 530h1v2h-1zM280 535h1v2h-1zM280 533h2v1h-2zM281 532h2v1h-2zM282 530h1v2h-1zM283 535h1v1h-1zM283 533h2v1h-2zM284 532h1v1h-1zM285 529h1v2h-1zM285 531h4v1h-4zM286 532h1v2h-1zM287 530h1v1h-1zM289 532h2v2h-2zM290 531h1v1h-1zM291 529h1v1h-1zM291 530h3v1h-3zM292 533h2v1h-2zM292 531h3v2h-3zM293 526h1v4h-1zM293 535h1v1h-1zM295 533h1v1h-1zM295 535h2v1h-2zM296 536h1v3h-1zM297 530h1v2h-1zM297 532h4v1h-4zM297 533h5v1h-5zM300 531h1v1h-1zM300 535h1v2h-1zM302 532h1v1h-1zM302 530h2v2h-2zM303 529h1v1h-1zM304 533h1v1h-1zM304 532h7v1h-7zM305 530h1v1h-1zM305 531h3v1h-3zM310 531h2v1h-2zM311 529h1v2h-1zM312 533h1v1h-1zM312 532h3v1h-3zM313 531h2v1h-2zM314 530h1v1h-1zM316 531h1v2h-1zM316 533h2v1h-2zM318 534h39v1h-39zM319 535h2v1h-2zM320 536h1v3h-1zM321 531h1v1h-1zM321 533h1v1h-1zM321 532h3v1h-3zM323 533h1v1h-1zM324 529h1v3h-1zM325 532h1v2h-1zM326 530h1v2h-1zM327 532h1v2h-1zM328 535h1v1h-1zM329 530h2v4h-2zM331 527h1v3h-1zM332 532h1v2h-1zM332 530h2v2h-2zM334 532h1v2h-1zM335 530h2v2h-2zM336 529h1v1h-1zM336 532h1v2h-1zM338 532h1v2h-1zM339 531h1v1h-1zM340 532h1v2h-1zM341 530h1v1h-1zM341 531h4v1h-4zM342 532h2v2h-2zM343 528h1v2h-1zM343 530h2v1h-2zM345 532h1v2h-1zM346 530h1v2h-1zM347 533h1v1h-1zM347 532h2v1h-2zM348 531h1v1h-1zM349 533h1v1h-1zM350 530h1v2h-1zM350 532h2v1h-2zM351 533h1v1h-1zM352 529h2v3h-2zM354 532h2v2h-2zM356 530h1v2h-1zM356 529h3v1h-3zM358 530h1v4h-1zM361 531h1v2h-1zM361 533h3v1h-3zM364 531h3v2h-3zM365 533h1v1h-1zM367 533h1v1h-1zM368 529h1v3h-1zM368 532h3v1h-3zM369 533h1v1h-1zM370 531h1v1h-1zM370 534h40v1h-40zM371 533h2v1h-2zM372 535h1v1h-1zM372 531h2v2h-2zM373 530h1v1h-1zM374 533h1v1h-1zM374 535h1v1h-1zM375 530h1v2h-1zM375 532h3v1h-3zM376 533h1v1h-1zM378 530h2v2h-2zM379 529h1v1h-1zM379 532h1v1h-1zM380 533h2v1h-2zM381 532h1v1h-1zM382 531h1v1h-1zM383 532h1v2h-1zM384 531h3v1h-3zM387 533h1v1h-1zM387 532h2v1h-2zM388 529h1v3h-1zM389 535h1v3h-1zM389 533h3v1h-3zM390 531h1v2h-1zM392 531h1v2h-1zM393 533h2v1h-2zM393 535h2v1h-2zM394 532h1v1h-1zM395 530h1v1h-1zM395 531h2v1h-2zM396 532h2v1h-2zM397 533h1v1h-1zM398 530h1v2h-1zM399 533h1v1h-1zM399 532h2v1h-2zM400 530h1v2h-1zM400 528h2v1h-2zM400 529h3v1h-3zM401 524h1v4h-1zM402 530h1v2h-1zM403 532h1v2h-1zM404 529h1v3h-1zM405 533h1v1h-1zM405 532h3v1h-3zM406 531h1v1h-1zM407 533h1v1h-1zM407 535h1v1h-1zM408 528h1v4h-1zM409 532h1v2h-1zM410 529h1v3h-1zM411 533h1v1h-1zM411 532h2v1h-2zM412 530h1v2h-1zM413 529h1v1h-1zM414 530h1v1h-1zM414 532h2v1h-2zM414 531h3v1h-3zM415 533h1v1h-1zM417 529h2v2h-2zM418 528h1v1h-1zM419 532h1v1h-1zM419 531h2v1h-2zM420 530h1v1h-1zM421 532h1v2h-1zM422 530h2v1h-2zM422 531h4v1h-4zM423 532h1v2h-1zM423 534h40v1h-40zM425 530h1v1h-1zM426 533h2v1h-2zM426 532h3v1h-3zM428 531h1v1h-1zM429 533h2v1h-2zM430 529h1v1h-1zM430 530h2v3h-2zM432 533h4v1h-4zM433 532h2v1h-2zM434 530h1v2h-1zM435 535h1v3h-1zM436 532h1v1h-1zM436 529h2v1h-2zM436 530h3v2h-3zM439 533h2v1h-2zM439 532h3v1h-3zM441 530h1v2h-1zM442 535h1v1h-1zM442 533h4v1h-4zM443 530h2v1h-2zM443 532h3v1h-3zM443 531h4v1h-4zM444 529h1v1h-1zM444 535h1v4h-1zM446 530h1v1h-1zM447 532h3v2h-3zM449 535h1v1h-1zM450 529h1v3h-1zM451 535h1v1h-1zM451 533h3v1h-3zM451 532h4v1h-4zM452 530h1v2h-1zM455 533h1v1h-1zM456 531h1v1h-1zM456 532h2v1h-2zM457 533h4v1h-4zM458 535h1v2h-1zM459 530h1v2h-1zM459 532h3v1h-3zM461 530h1v2h-1zM462 533h1v1h-1zM463 530h1v1h-1zM463 531h2v2h-2zM464 533h1v1h-1zM465 527h1v3h-1zM465 530h3v1h-3zM466 531h1v2h-1zM467 529h1v1h-1zM468 531h1v3h-1zM470 533h1v1h-1zM471 531h1v2h-1zM473 532h1v2h-1zM473 531h2v1h-2zM474 530h1v1h-1zM475 532h1v1h-1zM475 533h2v1h-2zM476 534h39v1h-39zM477 531h1v1h-1zM477 532h3v1h-3zM478 533h1v1h-1zM479 529h1v3h-1zM480 535h1v3h-1zM480 533h2v1h-2zM481 532h1v1h-1zM481 531h2v1h-2zM482 528h1v3h-1zM483 535h1v1h-1zM483 532h2v2h-2zM485 529h1v3h-1zM486 533h2v1h-2zM486 532h3v1h-3zM487 530h3v2h-3zM488 526h1v2h-1zM488 528h2v2h-2zM490 532h1v1h-1zM490 535h1v2h-1zM490 533h2v1h-2zM492 531h1v2h-1zM493 533h3v1h-3zM494 531h2v2h-2zM495 528h1v1h-1zM495 529h2v1h-2zM495 530h3v1h-3zM497 531h1v1h-1zM498 533h1v1h-1zM498 532h2v1h-2zM499 530h1v2h-1zM500 535h1v1h-1zM500 533h3v1h-3zM501 532h2v1h-2zM502 535h1v1h-1zM502 531h5v1h-5zM503 529h1v2h-1zM504 532h1v2h-1zM505 530h2v1h-2zM507 532h1v2h-1zM508 530h1v2h-1zM509 532h1v2h-1zM509 535h1v1h-1zM509 537h1v2h-1zM509 536h3v1h-3zM511 533h1v1h-1zM511 535h1v1h-1zM511 537h1v2h-1zM512 528h1v3h-1zM512 532h3v1h-3zM512 531h4v1h-4zM513 533h2v1h-2zM515 529h1v2h-1zM516 533h1v1h-1zM516 532h2v1h-2zM517 531h1v1h-1zM517 530h2v1h-2zM519 531h1v1h-1zM519 532h2v1h-2zM520 533h1v1h-1zM521 530h2v2h-2zM523 533h1v1h-1zM523 532h3v1h-3zM524 530h3v2h-3zM526 528h1v2h-1zM527 533h1v1h-1zM527 532h5v1h-5zM528 531h1v1h-1zM528 534h40v1h-40zM529 533h1v1h-1zM531 529h2v3h-2zM533 532h1v1h-1zM533 533h2v1h-2zM534 535h1v1h-1zM535 529h1v4h-1zM536 527h1v2h-1zM537 531h1v1h-1zM537 529h2v2h-2zM539 531h1v2h-1zM540 529h1v2h-1zM541 531h1v2h-1zM542 529h1v2h-1zM543 531h1v1h-1zM543 533h1v1h-1zM543 532h2v1h-2zM545 531h1v1h-1zM546 535h1v1h-1zM546 532h2v2h-2zM547 530h1v2h-1zM548 535h1v4h-1zM549 531h1v3h-1zM549 529h2v2h-2zM550 528h1v1h-1zM551 531h1v1h-1zM551 533h2v1h-2zM551 532h3v1h-3zM553 530h1v2h-1zM554 533h1v1h-1zM555 531h2v2h-2zM557 533h1v1h-1zM557 535h1v1h-1zM558 531h1v1h-1zM558 532h4v1h-4zM559 533h1v1h-1zM560 531h3v1h-3zM562 530h1v1h-1zM563 533h1v1h-1zM563 532h3v1h-3zM564 531h3v1h-3zM565 533h1v1h-1zM566 529h1v2h-1zM567 533h1v1h-1zM567 532h2v1h-2zM568 531h1v1h-1zM569 533h1v1h-1zM570 532h1v1h-1zM572 532h1v1h-1zM573 531h2v1h-2zM574 530h1v1h-1zM574 532h2v2h-2zM576 530h1v1h-1zM576 531h3v1h-3zM577 532h1v1h-1zM578 530h1v1h-1zM579 532h1v2h-1zM580 531h1v1h-1zM581 532h2v1h-2zM581 533h3v1h-3zM581 534h40v1h-40zM582 528h1v4h-1zM582 535h2v1h-2zM583 536h1v2h-1zM584 528h1v3h-1zM584 531h2v2h-2zM585 533h1v1h-1zM586 529h1v1h-1zM586 530h4v1h-4zM588 531h2v1h-2zM589 529h1v1h-1zM589 533h2v1h-2zM589 532h3v1h-3zM590 535h1v1h-1zM591 531h1v1h-1zM592 533h3v1h-3zM594 531h1v2h-1zM595 535h1v2h-1zM596 529h1v3h-1zM596 532h3v2h-3zM597 535h1v1h-1zM599 529h1v2h-1zM599 531h2v1h-2zM600 532h1v2h-1zM600 535h1v1h-1zM601 527h1v4h-1zM602 535h1v1h-1zM602 533h2v1h-2zM602 531h3v2h-3zM604 530h1v1h-1zM605 533h2v1h-2zM605 535h2v2h-2zM606 537h1v2h-1zM607 528h1v3h-1zM607 531h2v2h-2zM608 533h1v1h-1zM609 528h1v1h-1zM609 529h3v2h-3zM610 531h2v1h-2zM610 532h5v1h-5zM611 535h1v2h-1zM611 533h2v1h-2zM613 531h1v1h-1zM614 533h1v1h-1zM615 530h1v1h-1zM615 531h4v1h-4zM616 532h4v1h-4zM617 530h1v1h-1zM618 535h1v2h-1zM618 533h2v1h-2zM620 530h2v2h-2zM622 532h1v2h-1zM623 530h1v2h-1zM624 532h2v1h-2zM625 531h1v1h-1zM625 533h1v1h-1zM627 530h1v2h-1zM627 533h2v1h-2zM627 532h4v1h-4zM631 531h1v1h-1zM632 533h1v1h-1zM632 532h2v1h-2zM633 531h2v1h-2zM634 530h1v1h-1zM634 534h39v1h-39zM635 533h1v1h-1zM635 532h3v1h-3zM636 531h1v1h-1zM637 533h1v1h-1zM638 535h2v1h-2zM639 536h1v3h-1zM640 530h1v1h-1zM640 533h1v1h-1zM640 531h2v1h-2zM640 532h4v1h-4zM642 533h1v1h-1zM643 530h1v2h-1zM644 536h1v1h-1zM644 533h2v1h-2zM644 535h2v1h-2zM646 530h1v1h-1zM646 531h3v1h-3zM646 532h5v1h-5zM647 533h1v1h-1zM649 533h1v1h-1zM651 533h1v1h-1zM652 532h1v1h-1zM652 531h4v1h-4zM656 532h1v2h-1zM657 530h1v2h-1zM658 532h1v2h-1zM659 531h2v1h-2zM661 533h1v1h-1zM661 532h3v1h-3zM663 533h1v1h-1zM664 531h3v1h-3zM666 530h1v1h-1zM667 533h2v1h-2zM667 532h4v1h-4zM669 531h1v1h-1zM670 533h1v1h-1zM671 530h1v2h-1zM672 533h1v1h-1zM672 532h2v1h-2zM674 533h2v1h-2zM675 532h2v1h-2zM676 531h1v1h-1zM677 533h1v1h-1zM678 531h1v2h-1zM679 533h2v1h-2zM681 531h1v1h-1zM681 532h4v1h-4zM682 533h1v1h-1zM683 531h3v1h-3zM685 530h1v1h-1zM686 533h1v1h-1zM686 532h2v1h-2zM687 534h39v1h-39zM688 533h1v1h-1zM689 531h3v2h-3zM690 530h1v1h-1zM690 533h1v1h-1zM692 533h1v1h-1zM693 531h1v1h-1zM693 532h2v1h-2zM694 533h1v1h-1zM695 530h1v2h-1zM696 532h1v2h-1zM697 531h2v1h-2zM699 530h1v1h-1zM700 531h1v1h-1zM701 532h1v1h-1zM702 531h2v1h-2zM703 532h1v1h-1zM704 533h2v1h-2zM705 531h2v1h-2zM705 532h3v1h-3zM708 531h2v1h-2zM709 530h1v1h-1zM709 532h1v1h-1zM710 528h1v2h-1zM711 530h1v1h-1zM711 531h3v1h-3zM711 532h4v1h-4zM712 533h1v1h-1zM715 531h1v1h-1zM716 532h1v1h-1zM717 533h1v1h-1zM718 532h2v1h-2zM719 531h1v1h-1zM719 533h2v1h-2zM721 532h2v1h-2zM723 533h2v1h-2zM725 531h2v1h-2zM725 532h3v1h-3zM726 533h2v1h-2zM728 528h1v3h-1zM728 531h4v1h-4zM729 532h1v1h-1zM730 530h2v1h-2zM732 532h1v1h-1zM732 533h3v1h-3zM734 531h2v2h-2zM736 530h1v1h-1zM737 531h1v2h-1zM738 533h1v1h-1zM739 532h3v1h-3zM739 534h40v1h-40zM740 533h2v1h-2zM741 531h1v1h-1zM742 535h1v2h-1zM743 533h1v1h-1zM744 532h2v1h-2zM746 533h1v1h-1zM747 532h4v1h-4zM748 531h1v1h-1zM748 533h3v1h-3zM751 530h1v2h-1zM752 533h1v1h-1zM752 532h5v1h-5zM754 533h1v1h-1zM755 531h1v1h-1zM756 533h1v1h-1zM757 530h1v1h-1zM757 531h2v1h-2zM758 532h1v1h-1zM759 533h1v1h-1zM760 532h1v1h-1zM761 531h3v1h-3zM762 533h1v1h-1zM762 532h2v1h-2zM764 533h1v1h-1zM765 532h1v1h-1zM765 531h2v1h-2zM767 532h1v2h-1zM768 530h1v1h-1zM768 531h2v1h-2zM770 532h1v2h-1zM772 533h1v1h-1zM773 532h1v1h-1zM774 533h1v1h-1zM775 532h3v1h-3zM776 533h2v1h-2zM777 531h1v1h-1zM780 531h1v1h-1zM780 533h1v1h-1zM780 532h3v1h-3zM782 531h1v1h-1zM783 533h2v1h-2zM784 532h1v1h-1zM785 530h1v1h-1zM785 531h3v1h-3zM786 532h2v1h-2zM789 531h1v2h-1zM790 533h2v1h-2zM791 531h2v2h-2zM792 534h40v1h-40zM793 533h1v1h-1zM794 531h1v1h-1zM794 532h2v1h-2zM796 533h2v1h-2zM798 531h2v2h-2zM799 533h2v1h-2zM801 532h1v1h-1zM801 531h3v1h-3zM803 530h1v1h-1zM804 532h1v2h-1zM805 531h2v1h-2zM806 530h1v1h-1zM806 532h1v1h-1zM807 533h1v1h-1zM807 535h1v1h-1zM808 531h1v2h-1zM809 533h2v1h-2zM811 531h1v2h-1zM812 533h3v1h-3zM815 532h1v1h-1zM816 533h1v1h-1zM817 531h1v1h-1zM817 532h7v1h-7zM819 533h2v1h-2zM820 531h2v1h-2zM822 533h1v1h-1zM824 533h1v1h-1zM825 531h2v1h-2zM825 532h3v1h-3zM827 533h1v1h-1zM828 530h1v1h-1zM828 531h2v1h-2zM829 532h1v1h-1zM830 533h2v1h-2zM831 532h1v1h-1zM832 530h1v2h-1zM833 533h1v1h-1zM833 532h3v1h-3zM836 530h1v2h-1zM837 532h1v2h-1zM838 530h1v2h-1zM839 533h1v1h-1zM839 532h2v1h-2zM840 531h1v1h-1zM842 533h1v1h-1zM843 532h2v1h-2zM845 533h3v1h-3zM845 534h39v1h-39zM846 532h2v1h-2zM847 531h1v1h-1zM848 535h1v4h-1zM849 533h1v1h-1zM849 531h2v1h-2zM849 532h4v1h-4zM851 533h1v1h-1zM852 531h1v1h-1zM853 535h1v1h-1zM853 533h2v1h-2zM854 532h1v1h-1zM854 531h2v1h-2zM855 530h1v1h-1zM856 532h2v2h-2zM858 531h1v1h-1zM858 530h2v1h-2zM860 531h1v1h-1zM861 532h1v2h-1zM862 531h1v1h-1zM863 532h2v2h-2zM865 535h1v2h-1zM866 532h1v1h-1zM866 533h3v1h-3zM868 535h1v1h-1zM869 532h1v1h-1zM869 531h4v1h-4zM871 533h1v1h-1zM871 532h2v1h-2zM873 530h1v1h-1zM874 531h1v1h-1zM874 532h2v1h-2zM876 531h1v1h-1zM877 532h2v2h-2zM878 535h1v3h-1zM879 531h4v1h-4zM881 532h1v1h-1zM882 530h1v1h-1zM883 533h1v1h-1zM883 532h5v1h-5zM884 531h2v1h-2zM885 530h1v1h-1zM886 533h1v1h-1zM888 533h1v1h-1zM889 531h2v2h-2zM891 533h1v1h-1zM892 531h2v2h-2zM894 533h2v1h-2zM895 532h1v1h-1zM896 530h1v2h-1zM897 533h1v1h-1zM897 532h4v1h-4zM897 534h40v1h-40zM898 531h1v1h-1zM899 533h2v1h-2zM900 530h1v2h-1zM900 535h1v3h-1zM900 529h2v1h-2zM901 527h1v2h-1zM902 530h1v4h-1zM903 535h2v1h-2zM904 536h1v2h-1zM905 531h1v1h-1zM905 532h3v2h-3zM907 531h1v1h-1zM908 529h1v2h-1zM909 532h1v2h-1zM909 531h2v1h-2zM910 529h1v2h-1zM911 533h1v1h-1zM911 532h4v1h-4zM912 531h3v1h-3zM914 530h1v1h-1zM914 533h2v1h-2zM916 531h1v1h-1zM916 532h2v1h-2zM917 533h1v1h-1zM918 531h1v1h-1zM919 533h1v1h-1zM919 532h3v1h-3zM920 531h1v1h-1zM921 533h1v1h-1zM922 530h1v2h-1zM923 533h1v1h-1zM923 532h2v1h-2zM924 531h1v1h-1zM925 533h1v1h-1zM926 531h1v2h-1zM927 533h1v1h-1zM929 531h1v1h-1zM929 533h1v1h-1zM929 532h2v1h-2zM931 533h1v1h-1zM932 532h1v1h-1zM932 531h2v1h-2zM934 532h1v2h-1zM935 530h2v2h-2zM936 532h1v1h-1zM936 533h2v1h-2zM938 532h1v1h-1zM938 531h2v1h-2zM939 530h1v1h-1zM940 532h2v1h-2zM941 533h1v1h-1zM942 531h1v1h-1zM943 532h1v1h-1zM943 533h2v1h-2zM945 531h1v2h-1zM946 530h1v1h-1zM947 531h2v2h-2zM949 533h2v1h-2zM950 532h1v1h-1zM950 531h3v1h-3zM950 534h40v1h-40zM951 530h1v1h-1zM952 532h1v1h-1zM953 533h3v1h-3zM955 532h1v1h-1zM956 535h1v4h-1zM957 532h2v2h-2zM958 531h3v1h-3zM959 529h1v1h-1zM959 530h2v1h-2zM961 533h1v1h-1zM961 532h2v1h-2zM962 531h1v1h-1zM963 533h1v1h-1zM964 532h1v1h-1zM965 531h1v1h-1zM966 532h1v1h-1zM967 531h1v1h-1zM968 533h1v1h-1zM968 532h6v1h-6zM969 531h1v1h-1zM970 533h4v1h-4zM971 530h1v2h-1zM972 535h1v3h-1zM973 531h1v1h-1zM974 527h1v2h-1zM974 529h2v2h-2zM975 531h1v1h-1zM975 532h2v1h-2zM976 533h1v1h-1zM977 530h1v2h-1zM978 533h1v1h-1zM978 532h2v1h-2zM979 530h2v2h-2zM980 529h1v1h-1zM981 532h1v2h-1zM983 533h1v1h-1zM984 531h2v2h-2zM986 533h3v1h-3zM987 531h1v1h-1zM987 532h2v1h-2zM989 531h1v1h-1zM990 532h1v2h-1zM994 531h1v2h-1zM995 533h2v1h-2zM997 531h1v1h-1zM997 532h3v1h-3zM998 533h1v1h-1zM999 530h1v2h-1zM1000 533h4v1h-4zM1001 531h1v2h-1zM1003 532h1v1h-1zM1003 534h39v1h-39zM1004 529h1v3h-1zM1005 533h1v1h-1zM1005 532h2v1h-2zM1006 531h1v1h-1zM1007 533h2v1h-2zM1008 532h2v1h-2zM1008 531h3v1h-3zM1011 532h1v2h-1zM1012 530h1v2h-1zM1012 529h2v1h-2zM1013 527h1v2h-1zM1014 530h1v1h-1zM1014 531h2v1h-2zM1014 533h2v1h-2zM1014 532h4v1h-4zM1017 533h1v1h-1zM1018 531h1v1h-1zM1019 530h1v1h-1zM1020 531h1v2h-1zM1021 530h1v1h-1zM1022 531h2v1h-2zM1023 533h1v1h-1zM1023 532h3v1h-3zM1025 531h1v1h-1zM1025 533h1v1h-1zM1026 535h1v2h-1zM1027 531h1v3h-1zM1028 535h1v3h-1zM1029 531h1v2h-1zM1029 533h3v1h-3zM1032 532h1v1h-1zM1032 531h2v1h-2zM1034 532h4v1h-4zM1035 533h4v1h-4zM1036 531h1v1h-1zM1037 536h1v1h-1zM1037 535h3v1h-3zM1039 536h1v2h-1zM1040 533h3v1h-3zM1042 532h1v1h-1zM1043 531h2v1h-2zM1044 532h1v2h-1zM1046 531h1v2h-1zM1047 533h1v1h-1zM1048 531h2v2h-2zM1049 533h1v1h-1zM1051 533h1v1h-1zM1051 531h2v1h-2zM1051 532h3v1h-3zM1053 533h1v1h-1zM1054 531h3v1h-3zM1056 532h1v1h-1zM1056 534h39v1h-39zM1057 533h1v1h-1zM1058 532h1v1h-1zM1059 533h1v1h-1zM1060 532h2v1h-2zM1061 531h1v1h-1zM1062 535h1v1h-1zM1062 533h2v1h-2zM1063 531h1v2h-1zM1064 535h1v4h-1zM1065 531h1v1h-1zM1065 533h2v1h-2zM1065 532h3v1h-3zM1066 535h1v2h-1zM1067 531h1v1h-1zM1068 533h2v1h-2zM1070 531h1v1h-1zM1070 532h3v1h-3zM1072 533h1v1h-1zM1072 531h2v1h-2zM1073 527h1v4h-1zM1074 532h2v2h-2zM1076 531h1v1h-1zM1077 533h1v1h-1zM1077 532h2v1h-2zM1079 533h2v1h-2zM1080 531h1v2h-1zM1082 535h1v1h-1zM1083 532h2v2h-2zM1085 531h1v1h-1zM1086 532h3v1h-3zM1087 533h1v1h-1zM1088 530h1v2h-1zM1089 533h2v1h-2zM1090 535h1v1h-1zM1091 536h2v3h-2zM1093 533h1v1h-1zM1093 535h1v1h-1zM1094 531h2v2h-2zM1095 533h2v1h-2zM1097 531h1v1h-1zM1097 532h2v1h-2zM1099 531h1v1h-1zM1100 532h2v2h-2zM1102 529h1v1h-1zM1102 530h2v2h-2zM1104 532h2v1h-2zM1105 531h1v1h-1zM1106 533h1v1h-1zM1107 531h1v1h-1zM1107 532h3v1h-3zM1108 533h2v1h-2zM1108 534h40v1h-40zM1109 531h2v1h-2zM1110 530h1v1h-1zM1111 532h1v2h-1zM1112 531h1v1h-1zM1113 532h1v2h-1zM1114 531h1v1h-1zM1115 533h1v1h-1zM1115 532h3v1h-3zM1117 533h1v1h-1zM1118 531h2v1h-2zM1119 532h1v1h-1zM1120 533h1v1h-1zM1122 531h1v3h-1zM1123 529h1v1h-1zM1123 530h2v1h-2zM1124 531h1v1h-1zM1124 533h1v1h-1zM1124 532h3v1h-3zM1126 533h1v1h-1zM1127 531h1v1h-1zM1128 532h2v1h-2zM1129 533h1v1h-1zM1130 531h2v1h-2zM1131 532h1v1h-1zM1132 533h2v1h-2zM1133 532h1v1h-1zM1134 530h1v1h-1zM1134 531h2v1h-2zM1135 532h1v1h-1zM1136 533h1v1h-1zM1137 531h2v1h-2zM1137 532h3v1h-3zM1138 533h2v1h-2zM1140 530h1v1h-1zM1140 531h4v1h-4zM1142 532h2v1h-2zM1143 533h1v1h-1zM1144 528h1v3h-1zM1145 531h1v1h-1zM1145 533h2v1h-2zM1145 535h2v1h-2zM1145 532h3v1h-3zM1148 531h1v1h-1zM1149 532h3v1h-3zM1150 533h1v1h-1zM1151 531h1v1h-1zM1152 533h2v1h-2zM1153 531h2v1h-2zM1153 532h3v1h-3zM1155 533h1v1h-1zM1156 530h1v1h-1zM1156 531h2v1h-2zM1157 532h2v1h-2zM1158 533h1v1h-1zM1159 530h1v2h-1zM1160 532h1v2h-1zM1161 534h39v1h-39zM1162 533h1v1h-1zM1163 532h1v1h-1zM1164 533h1v1h-1zM1165 532h1v1h-1zM1166 533h2v1h-2zM1167 532h1v1h-1zM1167 531h2v1h-2zM1169 532h1v2h-1zM1170 531h1v1h-1zM1171 530h1v1h-1zM1172 531h1v2h-1zM1173 533h2v1h-2zM1174 532h1v1h-1zM1175 530h1v2h-1zM1176 532h1v2h-1zM1177 530h1v2h-1zM1178 533h1v1h-1zM1178 532h2v1h-2zM1179 531h1v1h-1zM1180 533h2v1h-2zM1182 529h1v1h-1zM1182 532h1v1h-1zM1182 530h2v1h-2zM1182 531h4v1h-4zM1184 532h2v1h-2zM1185 529h1v2h-1zM1186 533h1v1h-1zM1186 535h1v2h-1zM1189 535h1v2h-1zM1189 533h4v1h-4zM1190 531h1v2h-1zM1192 532h2v1h-2zM1193 531h1v1h-1zM1194 533h2v1h-2zM1196 531h1v1h-1zM1196 532h2v1h-2zM1198 533h1v1h-1zM1199 531h1v1h-1zM1199 532h3v1h-3zM1200 533h1v1h-1zM1201 530h1v2h-1zM1202 533h1v1h-1zM1203 532h3v1h-3zM1205 533h1v1h-1zM1206 530h1v2h-1zM1207 532h2v2h-2zM1209 530h1v2h-1zM1210 532h3v1h-3zM1211 533h1v1h-1zM1213 531h3v1h-3zM1214 532h1v2h-1zM1214 534h39v1h-39zM1215 529h1v2h-1zM1216 532h3v1h-3zM1216 533h4v1h-4zM1217 531h1v1h-1zM1218 535h1v3h-1zM1220 532h1v1h-1zM1221 531h1v1h-1zM1222 532h1v2h-1zM1223 530h1v1h-1zM1223 531h2v1h-2zM1225 532h1v1h-1zM1225 533h2v1h-2zM1227 531h1v1h-1zM1227 532h2v1h-2zM1228 533h1v1h-1zM1229 530h1v2h-1zM1230 533h1v1h-1zM1230 532h5v1h-5zM1231 531h3v1h-3zM1232 530h1v1h-1zM1232 533h1v1h-1zM1234 533h1v1h-1zM1235 531h1v1h-1zM1235 530h3v1h-3zM1238 531h1v1h-1zM1238 532h3v1h-3zM1239 533h1v1h-1zM1240 531h1v1h-1zM1241 533h2v1h-2zM1242 532h2v1h-2zM1243 531h1v1h-1zM1244 533h1v1h-1zM1245 531h1v1h-1zM1245 532h5v1h-5zM1246 533h2v1h-2zM1247 531h1v1h-1zM1249 533h1v1h-1zM1250 530h1v2h-1zM1251 533h1v1h-1zM1251 532h2v1h-2zM1252 531h1v1h-1zM1253 533h3v1h-3zM1254 531h1v1h-1zM1254 532h4v1h-4zM1256 531h1v1h-1zM1257 533h1v1h-1zM1258 530h1v2h-1zM1259 532h1v1h-1zM1259 533h3v1h-3zM1261 531h1v2h-1zM1263 532h1v2h-1zM1264 531h1v1h-1zM1265 532h2v1h-2zM1266 531h1v1h-1zM1266 533h1v1h-1zM1266 534h40v1h-40zM1267 535h1v1h-1zM1268 532h1v2h-1zM1269 531h1v1h-1zM1270 532h1v2h-1zM1271 535h1v2h-1zM1272 533h1v1h-1zM1273 531h1v2h-1zM1274 533h1v1h-1zM1275 532h1v1h-1zM1276 533h1v1h-1zM1277 531h1v2h-1zM1278 533h1v1h-1zM1278 535h1v1h-1zM1279 532h1v1h-1zM1279 531h2v1h-2zM1281 532h3v1h-3zM1283 531h1v1h-1zM1283 533h2v1h-2zM1285 531h1v2h-1zM1286 533h1v1h-1zM1286 535h1v1h-1zM1287 537h1v2h-1zM1287 536h3v1h-3zM1288 535h2v1h-2zM1288 110h57v1h-57zM1289 533h1v1h-1zM1290 529h1v4h-1zM1291 533h1v1h-1zM1292 532h1v1h-1zM1293 533h3v1h-3zM1295 532h5v1h-5zM1296 531h2v1h-2zM1297 533h1v1h-1zM1299 531h1v1h-1zM1299 533h1v1h-1zM1300 528h1v3h-1zM1301 531h1v2h-1zM1301 533h2v1h-2zM1303 531h1v2h-1zM1304 533h4v1h-4zM1305 531h1v2h-1zM1308 531h1v2h-1zM1310 532h1v1h-1zM1311 533h2v1h-2zM1312 532h2v1h-2zM1312 531h3v1h-3zM1315 532h2v1h-2zM1317 531h1v1h-1zM1318 533h2v1h-2zM1318 532h4v1h-4zM1319 534h40v1h-40zM1320 531h1v1h-1zM1321 533h1v1h-1zM1322 530h1v2h-1zM1323 533h1v1h-1zM1323 532h2v1h-2zM1324 531h1v1h-1zM1325 533h1v1h-1zM1326 532h1v1h-1zM1327 533h1v1h-1zM1328 535h1v2h-1zM1329 532h1v2h-1zM1330 531h1v1h-1zM1331 533h1v1h-1zM1331 532h4v1h-4zM1332 531h3v1h-3zM1333 533h1v1h-1zM1335 533h1v1h-1zM1336 531h1v1h-1zM1336 532h2v1h-2zM1337 533h1v1h-1zM1338 530h1v2h-1zM1339 533h1v1h-1zM1339 532h3v1h-3zM1341 531h1v1h-1zM1341 533h3v1h-3zM1343 532h1v1h-1zM1344 530h1v2h-1zM1345 532h2v2h-2zM1347 531h2v1h-2zM1348 530h1v1h-1zM1348 532h3v1h-3zM1349 533h1v1h-1zM1350 531h3v1h-3zM1353 532h1v2h-1zM1354 530h2v2h-2zM1355 529h1v1h-1zM1355 533h2v1h-2zM1355 532h5v1h-5zM1356 535h1v1h-1zM1357 531h1v1h-1zM1359 531h1v1h-1zM1360 533h1v1h-1zM1361 531h1v1h-1zM1361 532h2v1h-2zM1363 531h2v1h-2zM1365 532h1v1h-1z"/>
<path fill="#c000ff" d="M200 428h1v11h-1zM200 427h13v1h-13zM200 439h13v1h-13zM212 428h1v11h-1zM1310 124h1v11h-1zM1310 123h13v1h-13zM1310 135h13v1h-13zM1322 124h1v11h-1z"/>
<path fill="#00eeee" d="M200 481h13v13h-13zM1310 142h13v13h-13z"/>
<path fill="#c04000" d="M97 521h2v1h-2zM98 519h1v2h-1zM98 522h1v2h-1zM98 518h2v1h-2zM98 524h2v1h-2zM99 517h2v1h-2zM99 525h2v1h-2zM100 516h1v1h-1zM100 526h1v1h-1zM102 516h5v1h-5zM102 526h5v1h-5zM103 515h1v1h-1zM103 527h1v1h-1zM106 517h2v1h-2zM106 525h2v1h-2zM107 518h2v1h-2zM107 524h2v1h-2zM108 519h1v2h-1zM108 522h1v2h-1zM108 521h2v1h-2zM143 519h2v1h-2zM144 517h1v2h-1zM144 520h1v2h-1zM144 516h2v1h-2zM144 522h2v1h-2zM145 515h2v1h-2zM145 523h2v1h-2zM146 514h7v1h-7zM146 524h7v1h-7zM149 513h1v1h-1zM149 525h1v1h-1zM152 515h2v1h-2zM152 523h2v1h-2zM153 516h2v1h-2zM153 522h2v1h-2zM154 517h1v2h-1zM154 520h1v2h-1zM154 519h2v1h-2zM202 518h2v1h-2zM203 516h1v2h-1zM203 519h1v2h-1zM203 515h2v1h-2zM203 521h2v1h-2zM204 514h2v1h-2zM204 522h2v1h-2zM205 513h7v1h-7zM205 523h7v1h-7zM208 512h1v1h-1zM208 524h1v1h-1zM211 514h2v1h-2zM211 522h2v1h-2zM212 515h2v1h-2zM212 521h2v1h-2zM213 516h1v2h-1zM213 519h1v2h-1zM213 518h2v1h-2zM249 515h2v1h-2zM250 513h1v2h-1zM250 516h1v2h-1zM250 512h2v1h-2zM250 518h2v1h-2zM251 511h2v1h-2zM251 519h2v1h-2zM252 510h13v1h-13zM252 520h13v1h-13zM255 509h1v1h-1zM255 521h1v1h-1zM255 515h2v1h-2zM256 513h1v2h-1zM256 516h1v2h-1zM256 512h2v1h-2zM256 518h2v1h-2zM257 511h3v1h-3zM257 519h3v1h-3zM259 512h2v1h-2zM259 518h2v1h-2zM260 513h1v2h-1zM260 516h1v2h-1zM260 515h2v1h-2zM261 509h1v1h-1zM261 521h1v1h-1zM264 511h2v1h-2zM264 519h2v1h-2zM265 512h2v1h-2zM265 518h2v1h-2zM266 513h1v2h-1zM266 516h1v2h-1zM266 515h2v1h-2zM301 514h2v1h-2zM302 512h1v2h-1zM302 515h1v2h-1zM302 511h2v1h-2zM302 517h2v1h-2zM303 510h2v1h-2zM303 518h2v1h-2zM304 509h7v1h-7zM304 519h7v1h-7zM307 508h1v1h-1zM307 520h3v1h-3zM309 521h1v2h-1zM309 523h2v1h-2zM309 518h3v1h-3zM309 517h4v1h-4zM310 510h2v1h-2zM310 524h2v1h-2zM310 516h3v1h-3zM311 511h2v1h-2zM311 515h7v1h-7zM311 525h7v1h-7zM312 512h1v2h-1zM312 514h3v1h-3zM314 526h1v1h-1zM317 516h2v1h-2zM317 524h2v1h-2zM318 517h2v1h-2zM318 523h2v1h-2zM319 518h1v2h-1zM319 521h1v2h-1zM319 520h2v1h-2zM354 515h2v1h-2zM355 513h1v2h-1zM355 516h1v2h-1zM355 512h2v1h-2zM355 518h2v1h-2zM356 511h2v1h-2zM356 519h2v1h-2zM357 510h7v1h-7zM357 520h7v1h-7zM360 509h1v1h-1zM360 521h1v1h-1zM360 514h2v1h-2zM361 512h1v2h-1zM361 515h1v2h-1zM361 517h2v1h-2zM361 511h4v1h-4zM362 518h4v1h-4zM363 509h7v1h-7zM363 519h7v1h-7zM364 512h2v1h-2zM365 513h1v2h-1zM365 516h1v2h-1zM365 515h2v1h-2zM366 508h1v1h-1zM366 520h1v1h-1zM369 510h2v1h-2zM369 518h2v1h-2zM370 511h2v1h-2zM370 517h2v1h-2zM371 512h1v2h-1zM371 515h1v2h-1zM371 514h2v1h-2zM407 519h2v1h-2zM408 517h1v2h-1zM408 520h1v2h-1zM408 516h2v1h-2zM408 522h2v1h-2zM409 515h2v1h-2zM409 523h2v1h-2zM410 514h7v1h-7zM410 524h7v1h-7zM413 513h1v1h-1zM413 522h2v1h-2zM413 525h3v1h-3zM414 520h1v2h-1zM414 523h1v1h-1zM414 519h2v1h-2zM415 518h2v1h-2zM415 526h2v1h-2zM416 515h2v1h-2zM416 523h2v1h-2zM416 517h7v1h-7zM416 527h7v1h-7zM417 522h2v1h-2zM417 516h3v1h-3zM418 518h1v1h-1zM418 520h1v2h-1zM418 519h2v1h-2zM419 528h1v1h-1zM422 518h2v1h-2zM422 526h2v1h-2zM423 519h2v1h-2zM423 525h2v1h-2zM424 520h1v2h-1zM424 523h1v2h-1zM424 522h2v1h-2zM460 519h2v1h-2zM461 517h1v2h-1zM461 520h1v2h-1zM461 516h2v1h-2zM461 522h2v1h-2zM462 515h2v1h-2zM462 523h2v1h-2zM463 514h13v1h-13zM463 524h13v1h-13zM466 513h1v1h-1zM466 525h1v1h-1zM466 519h2v1h-2zM467 517h1v2h-1zM467 520h1v2h-1zM467 516h2v1h-2zM467 522h2v1h-2zM468 515h3v1h-3zM468 523h3v1h-3zM470 516h2v1h-2zM470 522h2v1h-2zM471 517h1v2h-1zM471 520h1v2h-1zM471 519h2v1h-2zM472 513h1v1h-1zM472 525h1v1h-1zM475 515h2v1h-2zM475 523h2v1h-2zM476 516h2v1h-2zM476 522h2v1h-2zM477 517h1v2h-1zM477 520h1v2h-1zM477 519h2v1h-2zM512 513h2v1h-2zM513 511h1v2h-1zM513 514h1v2h-1zM513 510h2v1h-2zM513 516h2v1h-2zM514 509h2v1h-2zM514 517h2v1h-2zM515 508h7v1h-7zM515 518h7v1h-7zM518 507h1v1h-1zM518 519h2v1h-2zM519 517h1v1h-1zM519 520h1v2h-1zM519 516h2v1h-2zM519 522h2v1h-2zM520 515h2v1h-2zM520 523h2v1h-2zM521 509h2v1h-2zM521 517h2v1h-2zM521 514h7v1h-7zM521 524h7v1h-7zM522 510h2v1h-2zM522 516h2v1h-2zM523 511h1v2h-1zM523 515h1v1h-1zM523 513h2v1h-2zM524 525h1v1h-1zM527 515h2v1h-2zM527 523h2v1h-2zM528 516h2v1h-2zM528 522h2v1h-2zM529 517h1v2h-1zM529 520h1v2h-1zM529 519h2v1h-2zM565 516h2v1h-2zM566 514h1v2h-1zM566 517h1v2h-1zM566 513h2v1h-2zM566 519h2v1h-2zM567 512h2v1h-2zM567 520h2v1h-2zM568 511h7v1h-7zM568 521h7v1h-7zM571 522h1v1h-1zM571 510h2v1h-2zM572 509h1v1h-1zM572 512h1v2h-1zM572 508h2v1h-2zM572 514h2v1h-2zM573 507h2v1h-2zM573 515h2v1h-2zM574 512h2v1h-2zM574 520h2v1h-2zM574 506h7v1h-7zM574 516h7v1h-7zM575 513h2v1h-2zM575 519h2v1h-2zM576 514h1v2h-1zM576 518h1v1h-1zM576 517h2v1h-2zM577 505h1v1h-1zM580 507h2v1h-2zM580 515h2v1h-2zM581 508h2v1h-2zM581 514h2v1h-2zM582 509h1v2h-1zM582 512h1v2h-1zM582 511h2v1h-2zM618 516h2v1h-2zM619 514h1v2h-1zM619 517h1v2h-1zM619 513h2v1h-2zM619 519h2v1h-2zM620 512h2v1h-2zM620 520h2v1h-2zM621 511h7v1h-7zM621 521h7v1h-7zM624 510h1v1h-1zM624 519h2v1h-2zM624 522h3v1h-3zM625 517h1v2h-1zM625 520h1v1h-1zM625 516h2v1h-2zM626 515h2v1h-2zM626 523h2v1h-2zM627 512h2v1h-2zM627 520h2v1h-2zM627 514h7v1h-7zM627 524h7v1h-7zM628 519h2v1h-2zM628 513h3v1h-3zM629 515h1v1h-1zM629 517h1v2h-1zM629 516h2v1h-2zM630 525h1v1h-1zM633 515h2v1h-2zM633 523h2v1h-2zM634 516h2v1h-2zM634 522h2v1h-2zM635 517h1v2h-1zM635 520h1v2h-1zM635 519h2v1h-2zM670 519h2v1h-2zM671 517h1v2h-1zM671 520h1v2h-1zM671 516h2v1h-2zM671 522h2v1h-2zM672 515h2v1h-2zM672 523h2v1h-2zM673 514h7v1h-7zM673 524h7v1h-7zM676 513h1v1h-1zM676 525h1v1h-1zM677 505h2v1h-2zM678 503h1v2h-1zM678 506h1v2h-1zM678 502h2v1h-2zM678 508h2v1h-2zM679 501h2v1h-2zM679 509h2v1h-2zM679 515h2v1h-2zM679 523h2v1h-2zM680 516h2v1h-2zM680 522h2v1h-2zM680 500h7v1h-7zM680 510h7v1h-7zM681 517h1v2h-1zM681 520h1v2h-1zM681 519h2v1h-2zM683 499h1v1h-1zM683 511h1v1h-1zM686 501h2v1h-2zM686 509h2v1h-2zM687 502h2v1h-2zM687 508h2v1h-2zM688 503h1v2h-1zM688 506h1v2h-1zM688 505h2v1h-2zM723 508h2v1h-2zM724 506h1v2h-1zM724 509h1v2h-1zM724 505h2v1h-2zM724 511h2v1h-2zM725 504h2v1h-2zM725 512h2v1h-2zM726 503h7v1h-7zM726 513h7v1h-7zM729 502h1v1h-1zM729 514h2v1h-2zM729 516h2v1h-2zM730 515h1v1h-1zM730 517h1v2h-1zM730 519h2v1h-2zM731 520h2v1h-2zM731 512h3v1h-3zM732 504h2v1h-2zM732 511h7v1h-7zM732 521h7v1h-7zM733 505h2v1h-2zM734 506h1v2h-1zM734 509h1v1h-1zM734 508h2v1h-2zM734 510h2v1h-2zM735 522h1v1h-1zM738 512h2v1h-2zM738 520h2v1h-2zM739 513h2v1h-2zM739 519h2v1h-2zM740 514h1v2h-1zM740 517h1v2h-1zM740 516h2v1h-2zM776 521h2v1h-2zM777 519h1v2h-1zM777 522h1v2h-1zM777 518h2v1h-2zM777 524h2v1h-2zM778 517h2v1h-2zM778 525h2v1h-2zM779 516h7v1h-7zM779 526h7v1h-7zM782 515h1v1h-1zM782 527h1v1h-1zM782 504h2v1h-2zM783 502h1v2h-1zM783 505h1v2h-1zM783 501h2v1h-2zM783 507h2v1h-2zM784 500h2v1h-2zM784 508h2v1h-2zM785 517h2v1h-2zM785 525h2v1h-2zM785 499h7v1h-7zM785 509h7v1h-7zM786 518h2v1h-2zM786 524h2v1h-2zM787 519h1v2h-1zM787 522h1v2h-1zM787 521h2v1h-2zM788 498h1v1h-1zM788 510h1v1h-1zM791 500h2v1h-2zM791 508h2v1h-2zM792 501h2v1h-2zM792 507h2v1h-2zM793 502h1v2h-1zM793 505h1v2h-1zM793 504h2v1h-2zM829 520h2v1h-2zM830 518h1v2h-1zM830 521h1v2h-1zM830 517h2v1h-2zM830 523h2v1h-2zM831 516h2v1h-2zM831 524h2v1h-2zM832 515h7v1h-7zM832 525h7v1h-7zM835 514h1v1h-1zM835 526h1v1h-1zM835 508h2v1h-2zM836 506h1v2h-1zM836 509h1v2h-1zM836 505h2v1h-2zM836 511h2v1h-2zM837 504h2v1h-2zM837 512h2v1h-2zM838 516h2v1h-2zM838 524h2v1h-2zM838 503h7v1h-7zM838 513h7v1h-7zM839 517h2v1h-2zM839 523h2v1h-2zM840 518h1v2h-1zM840 521h1v2h-1zM840 520h2v1h-2zM841 502h1v1h-1zM841 514h1v1h-1zM844 504h2v1h-2zM844 512h2v1h-2zM845 505h2v1h-2zM845 511h2v1h-2zM846 506h1v2h-1zM846 509h1v2h-1zM846 508h2v1h-2zM881 519h2v1h-2zM882 517h1v2h-1zM882 520h1v2h-1zM882 516h2v1h-2zM882 522h2v1h-2zM883 515h2v1h-2zM883 523h2v1h-2zM884 514h7v1h-7zM884 524h7v1h-7zM887 513h1v1h-1zM887 525h1v1h-1zM887 503h2v1h-2zM888 501h1v2h-1zM888 504h1v2h-1zM888 500h2v1h-2zM888 506h2v1h-2zM889 499h2v1h-2zM889 507h2v1h-2zM890 515h2v1h-2zM890 523h2v1h-2zM890 498h7v1h-7zM890 508h7v1h-7zM891 516h2v1h-2zM891 522h2v1h-2zM892 517h1v2h-1zM892 520h1v2h-1zM892 519h2v1h-2zM893 497h1v1h-1zM893 509h1v1h-1zM896 499h2v1h-2zM896 507h2v1h-2zM897 500h2v1h-2zM897 506h2v1h-2zM898 501h1v2h-1zM898 504h1v2h-1zM898 503h2v1h-2zM934 514h2v1h-2zM935 512h1v2h-1zM935 515h1v2h-1zM935 511h2v1h-2zM935 517h2v1h-2zM936 510h2v1h-2zM936 518h2v1h-2zM937 509h7v1h-7zM937 519h7v1h-7zM940 508h1v1h-1zM940 520h2v1h-2zM941 517h1v2h-1zM941 521h1v1h-1zM941 516h2v1h-2zM941 522h2v1h-2zM942 515h2v1h-2zM942 523h2v1h-2zM943 510h2v1h-2zM943 518h2v1h-2zM943 514h7v1h-7zM943 524h7v1h-7zM944 511h2v1h-2zM944 517h2v1h-2zM945 512h1v1h-1zM945 515h1v2h-1zM945 513h2v1h-2zM946 525h1v1h-1zM949 515h2v1h-2zM949 523h2v1h-2zM950 516h2v1h-2zM950 522h2v1h-2zM951 517h1v2h-1zM951 520h1v2h-1zM951 519h2v1h-2zM987 521h2v1h-2zM988 519h1v2h-1zM988 522h1v2h-1zM988 518h2v1h-2zM988 524h2v1h-2zM989 517h2v1h-2zM989 525h2v1h-2zM990 516h7v1h-7zM990 526h7v1h-7zM993 515h1v1h-1zM993 527h1v1h-1zM993 501h2v1h-2zM994 499h1v2h-1zM994 502h1v2h-1zM994 498h2v1h-2zM994 504h2v1h-2zM995 497h2v1h-2zM995 505h2v1h-2zM996 517h2v1h-2zM996 525h2v1h-2zM996 496h7v1h-7zM996 506h7v1h-7zM997 518h2v1h-2zM997 524h2v1h-2zM998 519h1v2h-1zM998 522h1v2h-1zM998 521h2v1h-2zM999 495h1v1h-1zM999 507h1v1h-1zM1002 497h2v1h-2zM1002 505h2v1h-2zM1003 498h2v1h-2zM1003 504h2v1h-2zM1004 499h1v2h-1zM1004 502h1v2h-1zM1004 501h2v1h-2zM1039 508h2v1h-2zM1040 506h1v2h-1zM1040 509h1v2h-1zM1040 505h2v1h-2zM1040 511h2v1h-2zM1041 504h2v1h-2zM1041 512h2v1h-2zM1042 503h7v1h-7zM1042 513h7v1h-7zM1045 502h1v1h-1zM1045 514h1v1h-1zM1046 519h2v1h-2zM1047 517h1v2h-1zM1047 520h1v2h-1zM1047 516h2v1h-2zM1047 522h2v1h-2zM1048 504h2v1h-2zM1048 512h2v1h-2zM1048 515h2v1h-2zM1048 523h2v1h-2zM1049 505h2v1h-2zM1049 511h2v1h-2zM1049 514h7v1h-7zM1049 524h7v1h-7zM1050 506h1v2h-1zM1050 509h1v2h-1zM1050 508h2v1h-2zM1052 513h1v1h-1zM1052 525h1v1h-1zM1055 515h2v1h-2zM1055 523h2v1h-2zM1056 516h2v1h-2zM1056 522h2v1h-2zM1057 517h1v2h-1zM1057 520h1v2h-1zM1057 519h2v1h-2zM1092 507h2v1h-2zM1093 505h1v2h-1zM1093 508h1v2h-1zM1093 504h2v1h-2zM1093 510h2v1h-2zM1094 503h2v1h-2zM1094 511h2v1h-2zM1095 502h7v1h-7zM1095 512h7v1h-7zM1098 513h1v1h-1zM1098 501h2v1h-2zM1098 503h2v1h-2zM1099 504h1v2h-1zM1099 500h2v1h-2zM1099 506h2v1h-2zM1100 499h2v1h-2zM1100 507h2v1h-2zM1101 503h2v1h-2zM1101 511h2v1h-2zM1101 498h7v1h-7zM1101 508h7v1h-7zM1102 504h2v1h-2zM1102 510h2v1h-2zM1103 505h1v2h-1zM1103 507h2v1h-2zM1103 509h2v1h-2zM1104 497h1v1h-1zM1107 499h2v1h-2zM1107 507h2v1h-2zM1108 500h2v1h-2zM1108 506h2v1h-2zM1109 501h1v2h-1zM1109 504h1v2h-1zM1109 503h2v1h-2zM1145 522h2v1h-2zM1146 520h1v2h-1zM1146 523h1v2h-1zM1146 519h2v1h-2zM1146 525h2v1h-2zM1147 518h2v1h-2zM1147 526h2v1h-2zM1148 517h7v1h-7zM1148 527h7v1h-7zM1151 528h1v1h-1zM1151 513h2v1h-2zM1151 516h3v1h-3zM1152 511h1v2h-1zM1152 514h1v2h-1zM1152 510h2v1h-2zM1153 509h2v1h-2zM1154 526h2v1h-2zM1154 508h7v1h-7zM1154 518h7v1h-7zM1155 525h2v1h-2zM1155 519h3v1h-3zM1156 520h1v2h-1zM1156 523h1v2h-1zM1156 522h2v1h-2zM1157 507h1v1h-1zM1160 509h2v1h-2zM1160 517h2v1h-2zM1161 510h2v1h-2zM1161 516h2v1h-2zM1162 511h1v2h-1zM1162 514h1v2h-1zM1162 513h2v1h-2zM1197 489h2v1h-2zM1198 487h1v2h-1zM1198 490h1v2h-1zM1198 486h2v1h-2zM1198 492h2v1h-2zM1199 485h2v1h-2zM1199 493h2v1h-2zM1200 494h7v1h-7zM1200 484h8v1h-8zM1203 483h1v1h-1zM1203 495h1v1h-1zM1204 488h2v1h-2zM1205 486h1v2h-1zM1205 489h1v2h-1zM1205 491h2v1h-2zM1205 485h3v1h-3zM1206 492h3v1h-3zM1206 493h8v1h-8zM1207 486h2v1h-2zM1207 483h7v1h-7zM1208 487h1v2h-1zM1208 490h1v2h-1zM1208 489h2v1h-2zM1210 482h1v1h-1zM1210 494h1v1h-1zM1213 484h2v1h-2zM1213 492h2v1h-2zM1214 485h2v1h-2zM1214 491h2v1h-2zM1215 486h1v2h-1zM1215 489h1v2h-1zM1215 488h2v1h-2zM1250 516h2v1h-2zM1251 514h1v2h-1zM1251 517h1v2h-1zM1251 513h2v1h-2zM1251 519h2v1h-2zM1252 512h2v1h-2zM1252 520h2v1h-2zM1253 511h7v1h-7zM1253 521h7v1h-7zM1256 522h1v1h-1zM1256 513h2v1h-2zM1256 510h3v1h-3zM1257 512h1v1h-1zM1257 514h1v2h-1zM1257 516h2v1h-2zM1258 509h2v1h-2zM1258 517h2v1h-2zM1259 512h2v1h-2zM1259 520h2v1h-2zM1259 508h7v1h-7zM1259 518h7v1h-7zM1260 513h2v1h-2zM1260 519h3v1h-3zM1261 514h1v2h-1zM1261 517h1v1h-1zM1261 516h2v1h-2zM1262 507h1v1h-1zM1265 509h2v1h-2zM1265 517h2v1h-2zM1266 510h2v1h-2zM1266 516h2v1h-2zM1267 511h1v2h-1zM1267 514h1v2h-1zM1267 513h2v1h-2zM1303 508h2v1h-2zM1304 506h1v2h-1zM1304 509h1v2h-1zM1304 505h2v1h-2zM1304 511h2v1h-2zM1305 504h2v1h-2zM1305 512h2v1h-2zM1306 503h7v1h-7zM1306 513h7v1h-7zM1309 502h1v1h-1zM1309 514h2v2h-2zM1310 516h1v2h-1zM1310 167h2v1h-2zM1310 518h2v1h-2zM1310 512h4v1h-4zM1311 165h1v2h-1zM1311 168h1v2h-1zM1311 164h2v1h-2zM1311 170h2v1h-2zM1311 519h2v1h-2zM1311 511h4v1h-4zM1312 163h2v1h-2zM1312 171h2v1h-2zM1312 504h2v1h-2zM1312 510h7v1h-7zM1312 520h7v1h-7zM1313 505h2v1h-2zM1313 162h7v1h-7zM1313 172h7v1h-7zM1314 506h1v2h-1zM1314 508h2v2h-2zM1315 521h1v1h-1zM1316 161h1v1h-1zM1316 173h1v1h-1zM1318 511h2v1h-2zM1318 519h2v1h-2zM1319 163h2v1h-2zM1319 171h2v1h-2zM1319 512h2v1h-2zM1319 518h2v1h-2zM1320 513h1v2h-1zM1320 516h1v2h-1zM1320 164h2v1h-2zM1320 170h2v1h-2zM1320 515h2v1h-2zM1321 165h1v2h-1zM1321 168h1v2h-1zM1321 167h2v1h-2zM1356 520h2v1h-2zM1357 518h1v2h-1zM1357 521h1v2h-1zM1357 517h2v1h-2zM1357 523h2v1h-2zM1358 516h2v1h-2zM1358 524h2v1h-2zM1359 515h7v1h-7zM1359 525h7v1h-7zM1362 514h1v1h-1zM1362 526h1v1h-1zM1365 516h1v1h-1zM1365 524h1v1h-1zM1367 517h1v3h-1zM1367 521h1v3h-1zM1367 520h2v1h-2z"/>
<path fill="#c8c800" d="M98 536h3v4h-3zM98 540h11v3h-11zM99 535h2v1h-2zM99 543h9v1h-9zM100 534h1v1h-1zM100 544h7v1h-7zM102 534h5v1h-5zM102 535h6v1h-6zM102 536h7v3h-7zM103 533h1v1h-1zM103 545h1v1h-1zM144 536h11v3h-11zM144 540h11v3h-11zM145 535h9v1h-9zM145 543h9v1h-9zM146 534h7v1h-7zM146 544h7v1h-7zM149 533h1v1h-1zM149 545h1v1h-1zM203 536h11v3h-11zM203 540h11v3h-11zM204 535h9v1h-9zM204 543h9v1h-9zM205 534h7v1h-7zM205 544h7v1h-7zM208 533h1v1h-1zM208 545h1v1h-1zM250 536h17v3h-17zM250 540h17v3h-17zM251 535h15v1h-15zM251 543h15v1h-15zM252 534h13v1h-13zM252 544h13v1h-13zM255 533h1v1h-1zM255 545h1v1h-1zM261 533h1v1h-1zM261 545h1v1h-1zM302 536h18v3h-18zM302 540h18v3h-18zM303 535h16v1h-16zM303 543h16v1h-16zM304 534h14v1h-14zM304 544h14v1h-14zM307 533h1v1h-1zM307 545h1v1h-1zM314 533h1v1h-1zM314 545h1v1h-1zM355 536h17v3h-17zM355 540h17v3h-17zM356 535h15v1h-15zM356 543h15v1h-15zM357 534h13v1h-13zM357 544h13v1h-13zM360 533h1v1h-1zM360 545h1v1h-1zM366 533h1v1h-1zM366 545h1v1h-1zM408 536h17v3h-17zM408 540h17v3h-17zM409 535h15v1h-15zM409 543h15v1h-15zM410 534h13v1h-13zM410 544h13v1h-13zM413 533h1v1h-1zM413 545h1v1h-1zM419 533h1v1h-1zM419 545h1v1h-1zM461 536h17v3h-17zM461 540h17v3h-17zM462 535h15v1h-15zM462 543h15v1h-15zM463 534h13v1h-13zM463 544h13v1h-13zM466 533h1v1h-1zM466 545h1v1h-1zM472 533h1v1h-1zM472 545h1v1h-1zM513 536h17v3h-17zM513 540h17v3h-17zM514 535h15v1h-15zM514 543h15v1h-15zM515 534h13v1h-13zM515 544h13v1h-13zM518 533h1v1h-1zM518 545h1v1h-1zM524 533h1v1h-1zM524 545h1v1h-1zM566 536h17v3h-17zM566 540h17v3h-17zM567 535h15v1h-15zM567 543h15v1h-15zM568 534h13v1h-13zM568 544h13v1h-13zM571 533h1v1h-1zM571 545h1v1h-1zM577 533h1v1h-1zM577 545h1v1h-1zM619 536h17v3h-17zM619 540h17v3h-17zM620 535h15v1h-15zM620 543h15v1h-15zM621 534h13v1h-13zM621 544h13v1h-13zM624 533h1v1h-1zM624 545h1v1h-1zM630 533h1v1h-1zM630 545h1v1h-1zM671 536h18v3h-18zM671 540h18v3h-18zM672 535h16v1h-16zM672 543h16v1h-16zM673 534h14v1h-14zM673 544h14v1h-14zM676 533h1v1h-1zM676 545h1v1h-1zM683 533h1v1h-1zM683 545h1v1h-1zM724 536h17v3h-17zM724 540h17v3h-17zM725 535h15v1h-15zM725 543h15v1h-15zM726 534h13v1h-13zM726 544h13v1h-13zM729 533h1v1h-1zM729 545h1v1h-1zM735 533h1v1h-1zM735 545h1v1h-1zM777 536h17v3h-17zM777 540h17v3h-17zM778 535h15v1h-15zM778 543h15v1h-15zM779 534h13v1h-13zM779 544h13v1h-13zM782 533h1v1h-1zM782 545h1v1h-1zM788 533h1v1h-1zM788 545h1v1h-1zM830 536h17v3h-17zM830 540h17v3h-17zM831 535h15v1h-15zM831 543h15v1h-15zM832 534h13v1h-13zM832 544h13v1h-13zM835 533h1v1h-1zM835 545h1v1h-1zM841 533h1v1h-1zM841 545h1v1h-1zM882 536h17v3h-17zM882 540h17v3h-17zM883 535h15v1h-15zM883 543h15v1h-15zM884 534h13v1h-13zM884 544h13v1h-13zM887 533h1v1h-1zM887 545h1v1h-1zM893 533h1v1h-1zM893 545h1v1h-1zM935 536h17v3h-17zM935 540h17v3h-17zM936 535h15v1h-15zM936 543h15v1h-15zM937 534h13v1h-13zM937 544h13v1h-13zM940 533h1v1h-1zM940 545h1v1h-1zM946 533h1v1h-1zM946 545h1v1h-1zM988 536h17v3h-17zM988 540h17v3h-17zM989 535h15v1h-15zM989 543h15v1h-15zM990 534h13v1h-13zM990 544h13v1h-13zM993 533h1v1h-1zM993 545h1v1h-1zM999 533h1v1h-1zM999 545h1v1h-1zM1040 536h18v3h-18zM1040 540h18v3h-18zM1041 535h16v1h-16zM1041 543h16v1h-16zM1042 534h14v1h-14zM1042 544h14v1h-14zM1045 533h1v1h-1zM1045 545h1v1h-1zM1052 533h1v1h-1zM1052 545h1v1h-1zM1093 536h17v3h-17zM1093 540h17v3h-17zM1094 535h15v1h-15zM1094 543h15v1h-15zM1095 534h13v1h-13zM1095 544h13v1h-13zM1098 533h1v1h-1zM1098 545h1v1h-1zM1104 533h1v1h-1zM1104 545h1v1h-1zM1146 536h17v3h-17zM1146 540h17v3h-17zM1147 535h15v1h-15zM1147 543h15v1h-15zM1148 534h13v1h-13zM1148 544h13v1h-13zM1151 533h1v1h-1zM1151 545h1v1h-1zM1157 533h1v1h-1zM1157 545h1v1h-1zM1198 536h18v3h-18zM1198 540h18v3h-18zM1199 535h16v1h-16zM1199 543h16v1h-16zM1200 534h14v1h-14zM1200 544h14v1h-14zM1203 533h1v1h-1zM1203 545h1v1h-1zM1210 533h1v1h-1zM1210 545h1v1h-1zM1251 536h17v3h-17zM1251 540h17v3h-17zM1252 535h15v1h-15zM1252 543h15v1h-15zM1253 534h13v1h-13zM1253 544h13v1h-13zM1256 533h1v1h-1zM1256 545h1v1h-1zM1262 533h1v1h-1zM1262 545h1v1h-1zM1304 536h17v3h-17zM1304 540h17v3h-17zM1305 535h15v1h-15zM1305 543h15v1h-15zM1306 534h13v1h-13zM1306 544h13v1h-13zM1309 533h1v1h-1zM1309 545h1v1h-1zM1311 183h11v7h-11zM1312 182h9v1h-9zM1312 190h9v1h-9zM1313 181h7v1h-7zM1313 191h7v1h-7zM1315 533h1v1h-1zM1315 545h1v1h-1zM1316 180h1v1h-1zM1316 192h1v1h-1zM1357 536h9v3h-9zM1357 540h11v3h-11zM1358 535h8v1h-8zM1358 543h9v1h-9zM1359 534h7v1h-7zM1359 544h7v1h-7zM1362 533h1v1h-1zM1362 545h1v1h-1zM1367 536h1v4h-1z"/>
<path fill="#4169e1" d="M198 468h17v1h-17zM199 466h1v2h-1zM200 465h1v1h-1zM201 463h1v2h-1zM202 462h1v1h-1zM203 460h1v2h-1zM204 459h1v1h-1zM205 457h1v2h-1zM206 456h1v1h-1zM207 457h1v2h-1zM208 459h1v1h-1zM209 460h1v2h-1zM210 462h1v1h-1zM211 463h1v2h-1zM212 465h1v1h-1zM213 466h1v2h-1zM470 468h17v1h-17zM471 466h1v2h-1zM472 465h1v1h-1zM473 463h1v2h-1zM474 462h1v1h-1zM475 460h1v2h-1zM476 459h1v1h-1zM477 457h1v2h-1zM478 456h1v1h-1zM479 457h1v2h-1zM480 459h1v1h-1zM481 460h1v2h-1zM482 462h1v1h-1zM483 463h1v2h-1zM484 465h1v1h-1zM485 466h1v2h-1zM1308 209h17v1h-17zM1309 207h1v2h-1zM1310 206h1v1h-1zM1311 204h1v2h-1zM1312 203h1v1h-1zM1313 201h1v2h-1zM1314 200h1v1h-1zM1315 198h1v2h-1zM1316 197h1v1h-1zM1317 198h1v2h-1zM1318 200h1v1h-1zM1319 201h1v2h-1zM1320 203h1v1h-1zM1321 204h1v2h-1zM1322 206h1v1h-1zM1323 207h1v2h-1z"/>
<path fill="#ffc020" d="M198 414h17v1h-17zM199 412h15v2h-15zM200 411h13v1h-13zM201 409h11v2h-11zM202 408h9v1h-9zM203 406h7v2h-7zM204 405h5v1h-5zM205 403h3v2h-3zM206 402h1v1h-1zM1308 228h17v1h-17zM1309 226h15v2h-15zM1310 225h13v1h-13zM1311 223h11v2h-11zM1312 222h9v1h-9zM1313 220h7v2h-7zM1314 219h5v1h-5zM1315 217h3v2h-3zM1316 216h1v1h-1z"/>
<path fill="#008040" d="M200 371h13v1h-13zM206 365h1v6h-1zM206 372h1v6h-1zM1310 243h13v1h-13zM1316 237h1v6h-1zM1316 244h1v6h-1z"/>
<path fill="#c080ff" d="M93 335h8v1h-8zM94 336h7v2h-7zM95 338h6v1h-6zM96 339h5v2h-5zM97 341h4v1h-4zM98 342h3v2h-3zM99 344h2v1h-2zM100 345h1v2h-1zM102 339h1v2h-1zM102 341h2v1h-2zM102 347h6v1h-6zM102 345h53v2h-53zM102 344h54v1h-54zM102 342h55v2h-55zM102 336h59v2h-59zM102 335h60v1h-60zM103 338h57v1h-57zM104 339h55v2h-55zM105 341h53v1h-53zM109 347h45v1h-45zM198 328h17v1h-17zM199 329h1v2h-1zM199 335h1167v1h-1167zM200 331h1v1h-1zM200 336h1166v2h-1166zM201 332h1v2h-1zM201 338h1165v1h-1165zM202 334h1v1h-1zM202 339h1164v2h-1164zM203 341h1163v1h-1163zM204 342h1162v2h-1162zM205 344h1161v1h-1161zM206 345h1160v2h-1160zM210 334h1v1h-1zM211 332h1v2h-1zM212 331h1v1h-1zM213 329h1v2h-1zM215 347h164v1h-164zM380 347h87v1h-87zM468 347h89v1h-89zM558 347h178v1h-178zM737 347h258v1h-258zM996 347h166v1h-166zM1163 347h79v1h-79zM1243 347h17v1h-17zM1261 347h12v1h-12zM1274 347h92v1h-92zM1308 258h17v1h-17zM1309 259h1v2h-1zM1310 261h1v1h-1zM1311 262h1v2h-1zM1312 264h1v1h-1zM1313 265h1v2h-1zM1314 267h1v1h-1zM1315 268h1v2h-1zM1316 270h1v1h-1zM1317 268h1v2h-1zM1318 267h1v1h-1zM1319 265h1v2h-1zM1320 264h1v1h-1zM1321 262h1v2h-1zM1322 261h1v1h-1zM1323 259h1v2h-1zM1367 344h1v1h-1zM1367 342h2v2h-2zM1367 341h3v1h-3zM1367 339h4v2h-4zM1367 338h5v1h-5zM1367 336h6v2h-6zM1367 335h7v1h-7z"/>
<path fill="#306080" d="M198 347h17v1h-17zM199 348h1v2h-1zM200 350h1v1h-1zM201 351h1v2h-1zM202 353h1v1h-1zM203 354h1v2h-1zM204 356h1v1h-1zM205 357h1v2h-1zM206 359h1v1h-1zM207 357h1v2h-1zM208 356h1v1h-1zM209 354h1v2h-1zM210 353h1v1h-1zM211 351h1v2h-1zM212 350h1v1h-1zM213 348h1v2h-1zM1308 277h17v1h-17zM1309 278h1v2h-1zM1310 280h1v1h-1zM1311 281h1v2h-1zM1312 283h1v1h-1zM1313 284h1v2h-1zM1314 286h1v1h-1zM1315 287h1v2h-1zM1316 289h1v1h-1zM1317 287h1v2h-1zM1318 286h1v1h-1zM1319 284h1v2h-1zM1320 283h1v1h-1zM1321 281h1v2h-1zM1322 280h1v1h-1zM1323 278h1v2h-1z"/>
</g>
<g fill="#000">
<text x="76.9" y="543">0</text>
<text x="56.9" y="425">500</text>
<text x="46.4" y="308" textLength="40.25">1000</text>
<text x="46.2" y="190" textLength="40.52">1500</text>
<text x="46.2" y="73" textLength="40.52">2000</text>
<text x="76.6" y="562" textLength="46.6">00:00</text>
<text x="181.6" y="562" textLength="46.6">02:00</text>
<text x="287.6" y="562" textLength="46.6">04:00</text>
<text x="392.6" y="562" textLength="46.6">06:00</text>
<text x="498.6" y="562" textLength="46.6">08:00</text>
<text x="603.6" y="562" textLength="46.6">10:00</text>
<text x="709.6" y="562" textLength="46.6">12:00</text>
<text x="814.6" y="562" textLength="46.6">14:00</text>
<text x="919.6" y="562" textLength="46.6">16:00</text>
<text x="1025.6" y="562" textLength="46.6">18:00</text>
<text x="1130.6" y="562" textLength="46.6">20:00</text>
<text x="1236.6" y="562" textLength="46.6">22:00</text>
<text x="1341.6" y="562" textLength="46.6">00:00</text>
<text x="441.8" y="32" textLength="580.5500000000001">pi12 Apr 11  near/far ICMP/TCP ping and curl times [No msmt 1AM-2AM]</text>
<text x="326.0" y="589.5" textLength="814.17">&lt;-START at 2AM Yday, right to 12AM Tday-&gt;, then wrap left to 1AM Tday&lt;- [ignore connecting lines]</text>
<text transform="translate(16.7,320.56) rotate(-90)" textLength="42.56">msec</text>
<text x="1062.2" y="76" textLength="213.02">"Ypingresult.txt" using 1:2</text>
<text x="1043.4" y="95" textLength="230.88">"YTimetcpping.txt" using 1:2</text>
<text x="995.0" y="114" textLength="279.3">"YCustPingSiteTimes.txt" using 1:2</text>
<text x="1049.4" y="133" textLength="225.46">"Yofflineresult.txt" using 1:2</text>
<text x="1038.0" y="152" textLength="237.17">"Ytcpoff_record.txt" using 1:2</text>
<text x="1077.2" y="171" textLength="197.93">"Ycurltime.txt" using 1:2</text>
<text x="1048.4" y="190" textLength="226.35">"Ycurldnstime.txt" using 1:2</text>
<text x="1007.8" y="209" textLength="266.66">"YCustPingTimeout.txt" using 1:2</text>
<text x="1027.4" y="228" textLength="246.93">"Ypingtargetchange" using 1:2</text>
<text x="1040.0" y="247" textLength="234.89">"YHPpingresult.txt" using 1:2</text>
<text x="1022.4" y="266" textLength="252.8">"YpingtargetISrouter" using 1:2</text>
<text x="1116.4" y="285" textLength="158.71">"Ynoipv6" using 1:2</text>
</g>
</svg></body></html>
